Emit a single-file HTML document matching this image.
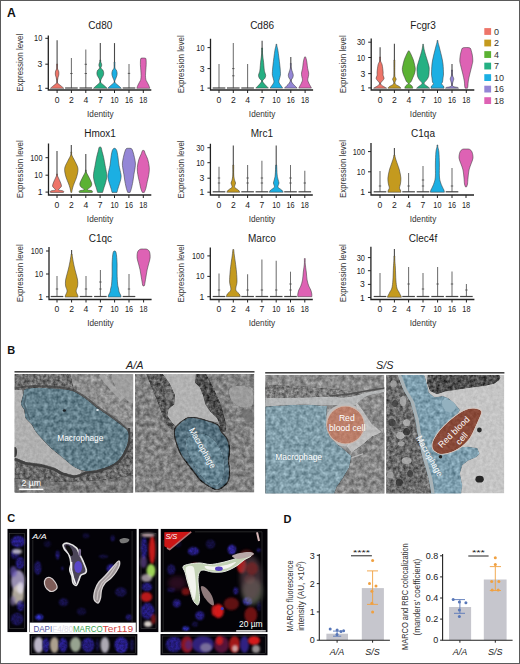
<!DOCTYPE html>
<html><head><meta charset="utf-8"><title>Figure</title>
<style>html,body{margin:0;padding:0;background:#fff;width:520px;height:664px;overflow:hidden}
svg text{font-family:"Liberation Sans",sans-serif}</style></head>
<body>
<svg width="520" height="664" viewBox="0 0 520 664" style="display:block">
<rect x="0" y="0" width="520" height="664" fill="#fff"/>
<text x="7" y="17" font-size="12.2" font-weight="bold" fill="#111" font-family="Liberation Sans, sans-serif">A</text>
<line x1="57.1" y1="86.3" x2="57.1" y2="40.3" stroke="#4a4a4a" stroke-width="1.1"/>
<path d="M50.40,88.30 C50.90,87.87 52.36,86.58 53.40,85.70 C54.44,84.82 56.11,83.95 56.65,83.00 C57.19,82.05 56.74,80.95 56.65,80.00 C56.56,79.05 56.31,78.13 56.10,77.30 C55.89,76.47 55.53,75.72 55.40,75.00 C55.27,74.28 55.27,73.67 55.30,73.00 C55.33,72.33 55.38,71.72 55.60,71.00 C55.83,70.28 56.48,69.87 56.65,68.70 C56.82,67.53 56.65,64.78 56.65,64.00 L57.55,64.00 C57.55,64.78 57.38,67.53 57.55,68.70 C57.73,69.87 58.38,70.28 58.60,71.00 C58.83,71.72 58.87,72.33 58.90,73.00 C58.93,73.67 58.93,74.28 58.80,75.00 C58.67,75.72 58.31,76.47 58.10,77.30 C57.89,78.13 57.64,79.05 57.55,80.00 C57.46,80.95 57.01,82.05 57.55,83.00 C58.09,83.95 59.76,84.82 60.80,85.70 C61.84,86.58 63.30,87.87 63.80,88.30 Z" fill="#EE7569" stroke="#3a3a3a" stroke-width="0.55"/>
<line x1="71.4" y1="88.3" x2="71.4" y2="58" stroke="#707070" stroke-width="1.05"/><line x1="65.10000000000001" y1="88.0" x2="77.7" y2="88.0" stroke="#444" stroke-width="1.2"/><line x1="70.2" y1="73.5" x2="72.60000000000001" y2="73.5" stroke="#444" stroke-width="0.8"/>
<line x1="85.8" y1="88.3" x2="85.8" y2="49.4" stroke="#707070" stroke-width="1.05"/><line x1="79.5" y1="88.0" x2="92.1" y2="88.0" stroke="#444" stroke-width="1.2"/><line x1="84.6" y1="64.3" x2="87.0" y2="64.3" stroke="#444" stroke-width="0.8"/><line x1="84.6" y1="73.5" x2="87.0" y2="73.5" stroke="#444" stroke-width="0.8"/>
<line x1="100.3" y1="86.3" x2="100.3" y2="43.1" stroke="#4a4a4a" stroke-width="1.1"/>
<path d="M93.50,88.30 C94.00,87.83 95.44,86.47 96.50,85.50 C97.56,84.53 99.29,83.33 99.85,82.50 C100.41,81.67 100.02,81.25 99.85,80.50 C99.67,79.75 99.22,78.83 98.80,78.00 C98.38,77.17 97.62,76.38 97.30,75.50 C96.98,74.62 96.82,73.62 96.90,72.70 C96.98,71.78 97.31,70.78 97.80,70.00 C98.29,69.22 99.65,68.67 99.85,68.00 C100.05,67.33 99.14,66.67 99.00,66.00 C98.86,65.33 98.86,64.67 99.00,64.00 C99.14,63.33 99.71,62.67 99.85,62.00 C99.99,61.33 99.85,60.33 99.85,60.00 L100.75,60.00 C100.75,60.33 100.61,61.33 100.75,62.00 C100.89,62.67 101.46,63.33 101.60,64.00 C101.74,64.67 101.74,65.33 101.60,66.00 C101.46,66.67 100.55,67.33 100.75,68.00 C100.95,68.67 102.31,69.22 102.80,70.00 C103.29,70.78 103.62,71.78 103.70,72.70 C103.78,73.62 103.62,74.62 103.30,75.50 C102.98,76.38 102.22,77.17 101.80,78.00 C101.38,78.83 100.92,79.75 100.75,80.50 C100.58,81.25 100.19,81.67 100.75,82.50 C101.31,83.33 103.04,84.53 104.10,85.50 C105.16,86.47 106.60,87.83 107.10,88.30 Z" fill="#25B083" stroke="#3a3a3a" stroke-width="0.55"/>
<line x1="114.5" y1="86.3" x2="114.5" y2="43.1" stroke="#4a4a4a" stroke-width="1.1"/>
<path d="M107.70,88.30 C108.20,87.83 109.64,86.47 110.70,85.50 C111.76,84.53 113.49,83.33 114.05,82.50 C114.61,81.67 114.22,81.25 114.05,80.50 C113.88,79.75 113.33,78.83 113.00,78.00 C112.67,77.17 112.28,76.38 112.10,75.50 C111.92,74.62 111.80,73.62 111.90,72.70 C112.00,71.78 112.34,70.78 112.70,70.00 C113.06,69.22 113.83,69.33 114.05,68.00 C114.27,66.67 114.05,63.00 114.05,62.00 L114.95,62.00 C114.95,63.00 114.73,66.67 114.95,68.00 C115.17,69.33 115.94,69.22 116.30,70.00 C116.66,70.78 117.00,71.78 117.10,72.70 C117.20,73.62 117.08,74.62 116.90,75.50 C116.72,76.38 116.33,77.17 116.00,78.00 C115.67,78.83 115.12,79.75 114.95,80.50 C114.78,81.25 114.39,81.67 114.95,82.50 C115.51,83.33 117.24,84.53 118.30,85.50 C119.36,86.47 120.80,87.83 121.30,88.30 Z" fill="#1BAFE3" stroke="#3a3a3a" stroke-width="0.55"/>
<line x1="129" y1="88.3" x2="129" y2="63.9" stroke="#707070" stroke-width="1.05"/><line x1="122.7" y1="88.0" x2="135.3" y2="88.0" stroke="#444" stroke-width="1.2"/><line x1="127.8" y1="73.4" x2="130.2" y2="73.4" stroke="#444" stroke-width="0.8"/>
<path d="M136.80,88.30 C136.85,88.13 136.90,87.85 137.10,87.30 C137.30,86.75 137.63,85.80 138.00,85.00 C138.37,84.20 138.92,83.22 139.30,82.50 C139.68,81.78 140.05,81.25 140.30,80.70 C140.55,80.15 140.67,80.05 140.80,79.20 C140.93,78.35 141.10,77.13 141.10,75.60 C141.10,74.07 140.92,71.83 140.80,70.00 C140.68,68.17 140.45,66.27 140.40,64.60 C140.35,62.93 140.40,61.05 140.50,60.00 C140.60,58.95 140.53,58.63 141.00,58.30 C141.47,57.97 142.92,58.05 143.30,58.00 L143.30,58.00 C143.68,58.05 145.13,57.97 145.60,58.30 C146.07,58.63 146.00,58.95 146.10,60.00 C146.20,61.05 146.25,62.93 146.20,64.60 C146.15,66.27 145.92,68.17 145.80,70.00 C145.68,71.83 145.50,74.07 145.50,75.60 C145.50,77.13 145.67,78.35 145.80,79.20 C145.93,80.05 146.05,80.15 146.30,80.70 C146.55,81.25 146.92,81.78 147.30,82.50 C147.68,83.22 148.23,84.20 148.60,85.00 C148.97,85.80 149.30,86.75 149.50,87.30 C149.70,87.85 149.75,88.13 149.80,88.30 Z" fill="#DE62B4" stroke="#3a3a3a" stroke-width="0.55"/>
<path d="M48.3,35.4 L48.3,90 L151.3,90" fill="none" stroke="#222" stroke-width="1.3"/>
<line x1="45.3" y1="38.3" x2="48.3" y2="38.3" stroke="#222" stroke-width="1"/>
<text x="42.3" y="41.3" text-anchor="end" font-size="8.6" fill="#222" font-family="Liberation Sans, sans-serif" textLength="8.2" lengthAdjust="spacingAndGlyphs">10</text>
<line x1="45.3" y1="64.2" x2="48.3" y2="64.2" stroke="#222" stroke-width="1"/>
<text x="42.3" y="67.2" text-anchor="end" font-size="8.6" fill="#222" font-family="Liberation Sans, sans-serif">3</text>
<line x1="45.3" y1="88.3" x2="48.3" y2="88.3" stroke="#222" stroke-width="1"/>
<text x="42.3" y="91.3" text-anchor="end" font-size="8.6" fill="#222" font-family="Liberation Sans, sans-serif">1</text>
<line x1="57.1" y1="90" x2="57.1" y2="93" stroke="#222" stroke-width="1"/>
<text x="57.1" y="103" text-anchor="middle" font-size="8.6" fill="#222" font-family="Liberation Sans, sans-serif">0</text>
<line x1="71.4" y1="90" x2="71.4" y2="93" stroke="#222" stroke-width="1"/>
<text x="71.4" y="103" text-anchor="middle" font-size="8.6" fill="#222" font-family="Liberation Sans, sans-serif">2</text>
<line x1="85.8" y1="90" x2="85.8" y2="93" stroke="#222" stroke-width="1"/>
<text x="85.8" y="103" text-anchor="middle" font-size="8.6" fill="#222" font-family="Liberation Sans, sans-serif">4</text>
<line x1="100.3" y1="90" x2="100.3" y2="93" stroke="#222" stroke-width="1"/>
<text x="100.3" y="103" text-anchor="middle" font-size="8.6" fill="#222" font-family="Liberation Sans, sans-serif">7</text>
<line x1="114.5" y1="90" x2="114.5" y2="93" stroke="#222" stroke-width="1"/>
<text x="114.5" y="103" text-anchor="middle" font-size="8.6" fill="#222" font-family="Liberation Sans, sans-serif" textLength="8.1" lengthAdjust="spacingAndGlyphs">10</text>
<line x1="129" y1="90" x2="129" y2="93" stroke="#222" stroke-width="1"/>
<text x="129" y="103" text-anchor="middle" font-size="8.6" fill="#222" font-family="Liberation Sans, sans-serif" textLength="8.1" lengthAdjust="spacingAndGlyphs">16</text>
<line x1="143.3" y1="90" x2="143.3" y2="93" stroke="#222" stroke-width="1"/>
<text x="143.3" y="103" text-anchor="middle" font-size="8.6" fill="#222" font-family="Liberation Sans, sans-serif" textLength="8.1" lengthAdjust="spacingAndGlyphs">18</text>
<text x="100.3" y="117" text-anchor="middle" font-size="9.2" fill="#333" font-family="Liberation Sans, sans-serif" textLength="26.5" lengthAdjust="spacingAndGlyphs">Identity</text>
<text x="100.3" y="29.3" text-anchor="middle" font-size="10" fill="#1a1a1a" font-family="Liberation Sans, sans-serif">Cd80</text>
<text transform="translate(22.7,62.7) rotate(-90)" text-anchor="middle" font-size="9.6" fill="#333" font-family="Liberation Sans, sans-serif" textLength="58" lengthAdjust="spacingAndGlyphs">Expression level</text>
<line x1="219" y1="88.3" x2="219" y2="64.1" stroke="#707070" stroke-width="1.05"/><line x1="212.7" y1="88.0" x2="225.3" y2="88.0" stroke="#444" stroke-width="1.2"/>
<line x1="233.3" y1="88.3" x2="233.3" y2="43" stroke="#707070" stroke-width="1.05"/><line x1="227.0" y1="88.0" x2="239.60000000000002" y2="88.0" stroke="#444" stroke-width="1.2"/><line x1="232.10000000000002" y1="75.8" x2="234.5" y2="75.8" stroke="#444" stroke-width="0.8"/><line x1="232.10000000000002" y1="68.6" x2="234.5" y2="68.6" stroke="#444" stroke-width="0.8"/>
<line x1="247.6" y1="88.3" x2="247.6" y2="64.1" stroke="#707070" stroke-width="1.05"/><line x1="241.29999999999998" y1="88.0" x2="253.9" y2="88.0" stroke="#444" stroke-width="1.2"/>
<line x1="262.1" y1="86.1" x2="262.1" y2="40.8" stroke="#4a4a4a" stroke-width="1.1"/>
<path d="M255.80,88.10 C256.22,87.67 257.52,86.33 258.30,85.50 C259.08,84.67 259.94,83.90 260.50,83.10 C261.06,82.30 261.82,81.47 261.65,80.70 C261.48,79.93 260.02,79.40 259.50,78.50 C258.98,77.60 258.48,76.42 258.50,75.30 C258.52,74.18 259.33,72.98 259.60,71.80 C259.87,70.62 259.93,69.80 260.10,68.20 C260.27,66.60 260.34,64.58 260.60,62.20 C260.86,59.82 261.48,56.27 261.65,53.90 C261.83,51.53 261.65,48.98 261.65,48.00 L262.55,48.00 C262.55,48.98 262.38,51.53 262.55,53.90 C262.73,56.27 263.34,59.82 263.60,62.20 C263.86,64.58 263.93,66.60 264.10,68.20 C264.27,69.80 264.33,70.62 264.60,71.80 C264.87,72.98 265.68,74.18 265.70,75.30 C265.72,76.42 265.23,77.60 264.70,78.50 C264.18,79.40 262.72,79.93 262.55,80.70 C262.38,81.47 263.14,82.30 263.70,83.10 C264.26,83.90 265.12,84.67 265.90,85.50 C266.68,86.33 267.98,87.67 268.40,88.10 Z" fill="#25B083" stroke="#3a3a3a" stroke-width="0.55"/>
<path d="M270.10,88.10 C270.40,87.67 271.32,86.35 271.90,85.50 C272.48,84.65 273.27,83.70 273.60,83.00 C273.93,82.30 273.93,81.98 273.90,81.30 C273.87,80.62 273.65,79.90 273.40,78.90 C273.15,77.90 272.57,76.48 272.40,75.30 C272.23,74.12 272.32,73.38 272.40,71.80 C272.48,70.22 272.65,68.18 272.90,65.80 C273.15,63.42 273.57,60.08 273.90,57.50 C274.23,54.92 274.56,52.30 274.90,50.30 C275.24,48.30 275.77,46.50 275.95,45.50 C276.12,44.50 275.95,44.50 275.95,44.30 L276.85,44.30 C276.85,44.50 276.67,44.50 276.85,45.50 C277.02,46.50 277.56,48.30 277.90,50.30 C278.24,52.30 278.57,54.92 278.90,57.50 C279.23,60.08 279.65,63.42 279.90,65.80 C280.15,68.18 280.32,70.22 280.40,71.80 C280.48,73.38 280.57,74.12 280.40,75.30 C280.23,76.48 279.65,77.90 279.40,78.90 C279.15,79.90 278.93,80.62 278.90,81.30 C278.87,81.98 278.87,82.30 279.20,83.00 C279.53,83.70 280.32,84.65 280.90,85.50 C281.48,86.35 282.40,87.67 282.70,88.10 Z" fill="#1BAFE3" stroke="#3a3a3a" stroke-width="0.55"/>
<line x1="290.8" y1="86.1" x2="290.8" y2="56.9" stroke="#4a4a4a" stroke-width="1.1"/>
<path d="M284.50,88.10 C284.92,87.67 286.20,86.33 287.00,85.50 C287.80,84.67 288.74,84.00 289.30,83.10 C289.86,82.20 290.40,80.95 290.35,80.10 C290.30,79.25 289.34,78.80 289.00,78.00 C288.66,77.20 288.30,76.22 288.30,75.30 C288.30,74.38 288.66,73.72 289.00,72.50 C289.34,71.28 290.12,69.52 290.35,68.00 C290.58,66.48 290.35,64.17 290.35,63.40 L291.25,63.40 C291.25,64.17 291.02,66.48 291.25,68.00 C291.48,69.52 292.26,71.28 292.60,72.50 C292.94,73.72 293.30,74.38 293.30,75.30 C293.30,76.22 292.94,77.20 292.60,78.00 C292.26,78.80 291.30,79.25 291.25,80.10 C291.20,80.95 291.74,82.20 292.30,83.10 C292.86,84.00 293.80,84.67 294.60,85.50 C295.40,86.33 296.68,87.67 297.10,88.10 Z" fill="#9486D6" stroke="#3a3a3a" stroke-width="0.55"/>
<path d="M298.80,88.10 C299.02,87.67 299.72,86.23 300.10,85.50 C300.48,84.77 300.70,84.60 301.10,83.70 C301.50,82.80 302.38,81.30 302.50,80.10 C302.62,78.90 301.97,77.68 301.80,76.50 C301.63,75.32 301.37,74.38 301.50,73.00 C301.63,71.62 302.30,70.00 302.60,68.20 C302.90,66.40 303.05,63.82 303.30,62.20 C303.55,60.58 303.88,59.38 304.10,58.50 C304.33,57.62 304.56,57.17 304.65,56.90 L305.55,56.90 C305.64,57.17 305.88,57.62 306.10,58.50 C306.33,59.38 306.65,60.58 306.90,62.20 C307.15,63.82 307.30,66.40 307.60,68.20 C307.90,70.00 308.57,71.62 308.70,73.00 C308.83,74.38 308.57,75.32 308.40,76.50 C308.23,77.68 307.58,78.90 307.70,80.10 C307.82,81.30 308.70,82.80 309.10,83.70 C309.50,84.60 309.72,84.77 310.10,85.50 C310.48,86.23 311.18,87.67 311.40,88.10 Z" fill="#DE62B4" stroke="#3a3a3a" stroke-width="0.55"/>
<path d="M210.5,38.7 L210.5,90 L313.1,90" fill="none" stroke="#222" stroke-width="1.3"/>
<line x1="207.5" y1="47.6" x2="210.5" y2="47.6" stroke="#222" stroke-width="1"/>
<text x="204.5" y="50.6" text-anchor="end" font-size="8.6" fill="#222" font-family="Liberation Sans, sans-serif" textLength="8.2" lengthAdjust="spacingAndGlyphs">10</text>
<line x1="207.5" y1="68.6" x2="210.5" y2="68.6" stroke="#222" stroke-width="1"/>
<text x="204.5" y="71.6" text-anchor="end" font-size="8.6" fill="#222" font-family="Liberation Sans, sans-serif">3</text>
<line x1="207.5" y1="88.1" x2="210.5" y2="88.1" stroke="#222" stroke-width="1"/>
<text x="204.5" y="91.1" text-anchor="end" font-size="8.6" fill="#222" font-family="Liberation Sans, sans-serif">1</text>
<line x1="219" y1="90" x2="219" y2="93" stroke="#222" stroke-width="1"/>
<text x="219" y="103" text-anchor="middle" font-size="8.6" fill="#222" font-family="Liberation Sans, sans-serif">0</text>
<line x1="233.3" y1="90" x2="233.3" y2="93" stroke="#222" stroke-width="1"/>
<text x="233.3" y="103" text-anchor="middle" font-size="8.6" fill="#222" font-family="Liberation Sans, sans-serif">2</text>
<line x1="247.6" y1="90" x2="247.6" y2="93" stroke="#222" stroke-width="1"/>
<text x="247.6" y="103" text-anchor="middle" font-size="8.6" fill="#222" font-family="Liberation Sans, sans-serif">4</text>
<line x1="262.1" y1="90" x2="262.1" y2="93" stroke="#222" stroke-width="1"/>
<text x="262.1" y="103" text-anchor="middle" font-size="8.6" fill="#222" font-family="Liberation Sans, sans-serif">7</text>
<line x1="276.4" y1="90" x2="276.4" y2="93" stroke="#222" stroke-width="1"/>
<text x="276.4" y="103" text-anchor="middle" font-size="8.6" fill="#222" font-family="Liberation Sans, sans-serif" textLength="8.1" lengthAdjust="spacingAndGlyphs">10</text>
<line x1="290.8" y1="90" x2="290.8" y2="93" stroke="#222" stroke-width="1"/>
<text x="290.8" y="103" text-anchor="middle" font-size="8.6" fill="#222" font-family="Liberation Sans, sans-serif" textLength="8.1" lengthAdjust="spacingAndGlyphs">16</text>
<line x1="305.1" y1="90" x2="305.1" y2="93" stroke="#222" stroke-width="1"/>
<text x="305.1" y="103" text-anchor="middle" font-size="8.6" fill="#222" font-family="Liberation Sans, sans-serif" textLength="8.1" lengthAdjust="spacingAndGlyphs">18</text>
<text x="262.1" y="117" text-anchor="middle" font-size="9.2" fill="#333" font-family="Liberation Sans, sans-serif" textLength="26.5" lengthAdjust="spacingAndGlyphs">Identity</text>
<text x="262.1" y="29.3" text-anchor="middle" font-size="10" fill="#1a1a1a" font-family="Liberation Sans, sans-serif">Cd86</text>
<text transform="translate(183.7,64.35) rotate(-90)" text-anchor="middle" font-size="9.6" fill="#333" font-family="Liberation Sans, sans-serif" textLength="58" lengthAdjust="spacingAndGlyphs">Expression level</text>
<line x1="380.1" y1="86.2" x2="380.1" y2="47.3" stroke="#4a4a4a" stroke-width="1.1"/>
<path d="M373.60,88.20 C374.08,87.92 375.62,87.05 376.50,86.50 C377.38,85.95 378.38,85.47 378.90,84.90 C379.43,84.33 379.87,83.80 379.65,83.10 C379.43,82.40 378.19,81.50 377.60,80.70 C377.01,79.90 376.18,79.20 376.10,78.30 C376.02,77.40 376.93,76.38 377.10,75.30 C377.27,74.22 376.93,73.58 377.10,71.80 C377.27,70.02 377.68,66.40 378.10,64.60 C378.53,62.80 379.39,62.27 379.65,61.00 C379.91,59.73 379.65,57.67 379.65,57.00 L380.55,57.00 C380.55,57.67 380.29,59.73 380.55,61.00 C380.81,62.27 381.68,62.80 382.10,64.60 C382.53,66.40 382.93,70.02 383.10,71.80 C383.27,73.58 382.93,74.22 383.10,75.30 C383.27,76.38 384.18,77.40 384.10,78.30 C384.02,79.20 383.19,79.90 382.60,80.70 C382.01,81.50 380.77,82.40 380.55,83.10 C380.33,83.80 380.77,84.33 381.30,84.90 C381.83,85.47 382.82,85.95 383.70,86.50 C384.58,87.05 386.12,87.92 386.60,88.20 Z" fill="#EE7569" stroke="#3a3a3a" stroke-width="0.55"/>
<line x1="394.4" y1="86.2" x2="394.4" y2="43.7" stroke="#4a4a4a" stroke-width="1.1"/>
<path d="M387.90,88.20 C388.15,87.92 388.65,87.05 389.40,86.50 C390.15,85.95 391.64,85.47 392.40,84.90 C393.16,84.33 393.82,83.80 393.95,83.10 C394.08,82.40 393.43,81.35 393.20,80.70 C392.97,80.05 392.60,79.70 392.60,79.20 C392.60,78.70 392.97,78.40 393.20,77.70 C393.43,77.00 393.82,77.95 393.95,75.00 C394.07,72.05 393.95,62.50 393.95,60.00 L394.85,60.00 C394.85,62.50 394.72,72.05 394.85,75.00 C394.97,77.95 395.37,77.00 395.60,77.70 C395.82,78.40 396.20,78.70 396.20,79.20 C396.20,79.70 395.82,80.05 395.60,80.70 C395.37,81.35 394.72,82.40 394.85,83.10 C394.98,83.80 395.64,84.33 396.40,84.90 C397.16,85.47 398.65,85.95 399.40,86.50 C400.15,87.05 400.65,87.92 400.90,88.20 Z" fill="#C49A1E" stroke="#3a3a3a" stroke-width="0.55"/>
<path d="M404.80,88.20 C404.88,87.92 405.00,87.03 405.30,86.50 C405.60,85.97 406.09,85.47 406.60,85.00 C407.11,84.53 408.40,84.32 408.35,83.70 C408.30,83.08 406.89,82.30 406.30,81.30 C405.71,80.30 405.30,78.88 404.80,77.70 C404.30,76.52 403.72,75.58 403.30,74.20 C402.88,72.82 402.38,70.80 402.30,69.40 C402.22,68.00 402.47,67.40 402.80,65.80 C403.13,64.20 403.63,61.78 404.30,59.80 C404.97,57.82 406.12,55.38 406.80,53.90 C407.48,52.42 408.09,51.40 408.35,50.90 L409.25,50.90 C409.51,51.40 410.12,52.42 410.80,53.90 C411.48,55.38 412.63,57.82 413.30,59.80 C413.97,61.78 414.47,64.20 414.80,65.80 C415.13,67.40 415.38,68.00 415.30,69.40 C415.22,70.80 414.72,72.82 414.30,74.20 C413.88,75.58 413.30,76.52 412.80,77.70 C412.30,78.88 411.89,80.30 411.30,81.30 C410.71,82.30 409.30,83.08 409.25,83.70 C409.20,84.32 410.49,84.53 411.00,85.00 C411.51,85.47 412.00,85.97 412.30,86.50 C412.60,87.03 412.72,87.92 412.80,88.20 Z" fill="#5BB233" stroke="#3a3a3a" stroke-width="0.55"/>
<path d="M416.60,88.20 C416.93,87.92 417.88,87.05 418.60,86.50 C419.32,85.95 420.32,85.47 420.90,84.90 C421.48,84.33 422.32,83.90 422.10,83.10 C421.88,82.30 420.35,81.20 419.60,80.10 C418.85,79.00 418.02,77.88 417.60,76.50 C417.18,75.12 417.18,73.38 417.10,71.80 C417.02,70.22 416.77,69.00 417.10,67.00 C417.43,65.00 418.35,62.38 419.10,59.80 C419.85,57.22 421.01,53.80 421.60,51.50 C422.19,49.20 422.48,47.20 422.65,46.00 C422.83,44.80 422.65,44.58 422.65,44.30 L423.55,44.30 C423.55,44.58 423.38,44.80 423.55,46.00 C423.73,47.20 424.01,49.20 424.60,51.50 C425.19,53.80 426.35,57.22 427.10,59.80 C427.85,62.38 428.77,65.00 429.10,67.00 C429.43,69.00 429.18,70.22 429.10,71.80 C429.02,73.38 429.02,75.12 428.60,76.50 C428.18,77.88 427.35,79.00 426.60,80.10 C425.85,81.20 424.32,82.30 424.10,83.10 C423.88,83.90 424.72,84.33 425.30,84.90 C425.88,85.47 426.88,85.95 427.60,86.50 C428.32,87.05 429.27,87.92 429.60,88.20 Z" fill="#25B083" stroke="#3a3a3a" stroke-width="0.55"/>
<path d="M431.00,88.20 C431.08,87.83 431.08,86.70 431.50,86.00 C431.92,85.30 433.33,84.67 433.50,84.00 C433.67,83.33 432.75,83.00 432.50,82.00 C432.25,81.00 432.17,79.33 432.00,78.00 C431.83,76.67 431.50,76.33 431.50,74.00 C431.50,71.67 431.67,67.00 432.00,64.00 C432.33,61.00 432.83,59.00 433.50,56.00 C434.17,53.00 435.41,48.33 436.00,46.00 C436.59,43.67 436.88,42.92 437.05,42.00 C437.23,41.08 437.05,40.75 437.05,40.50 L437.95,40.50 C437.95,40.75 437.77,41.08 437.95,42.00 C438.12,42.92 438.41,43.67 439.00,46.00 C439.59,48.33 440.83,53.00 441.50,56.00 C442.17,59.00 442.67,61.00 443.00,64.00 C443.33,67.00 443.50,71.67 443.50,74.00 C443.50,76.33 443.17,76.67 443.00,78.00 C442.83,79.33 442.75,81.00 442.50,82.00 C442.25,83.00 441.33,83.33 441.50,84.00 C441.67,84.67 443.08,85.30 443.50,86.00 C443.92,86.70 443.92,87.83 444.00,88.20 Z" fill="#1BAFE3" stroke="#3a3a3a" stroke-width="0.55"/>
<line x1="452" y1="86.2" x2="452" y2="64" stroke="#4a4a4a" stroke-width="1.1"/>
<path d="M445.50,88.20 C445.67,88.07 445.62,87.68 446.50,87.40 C447.38,87.12 449.96,87.07 450.80,86.50 C451.64,85.93 451.58,85.00 451.55,84.00 C451.52,83.00 450.83,81.33 450.60,80.50 C450.38,79.67 450.20,79.50 450.20,79.00 C450.20,78.50 450.38,78.17 450.60,77.50 C450.83,76.83 451.39,76.25 451.55,75.00 C451.71,73.75 451.55,70.83 451.55,70.00 L452.45,70.00 C452.45,70.83 452.29,73.75 452.45,75.00 C452.61,76.25 453.17,76.83 453.40,77.50 C453.62,78.17 453.80,78.50 453.80,79.00 C453.80,79.50 453.62,79.67 453.40,80.50 C453.17,81.33 452.48,83.00 452.45,84.00 C452.42,85.00 452.36,85.93 453.20,86.50 C454.04,87.07 456.62,87.12 457.50,87.40 C458.38,87.68 458.33,88.07 458.50,88.20 Z" fill="#9486D6" stroke="#3a3a3a" stroke-width="0.55"/>
<path d="M465.10,88.20 C465.03,87.83 464.83,87.20 464.70,86.00 C464.57,84.80 464.62,83.00 464.30,81.00 C463.98,79.00 463.38,76.50 462.80,74.00 C462.22,71.50 461.30,68.17 460.80,66.00 C460.30,63.83 459.88,62.83 459.80,61.00 C459.72,59.17 460.05,56.67 460.30,55.00 C460.55,53.33 460.93,52.17 461.30,51.00 C461.67,49.83 461.67,48.58 462.50,48.00 C463.33,47.42 465.67,47.58 466.30,47.50 L466.30,47.50 C466.93,47.58 469.27,47.42 470.10,48.00 C470.93,48.58 470.93,49.83 471.30,51.00 C471.67,52.17 472.05,53.33 472.30,55.00 C472.55,56.67 472.88,59.17 472.80,61.00 C472.72,62.83 472.30,63.83 471.80,66.00 C471.30,68.17 470.38,71.50 469.80,74.00 C469.22,76.50 468.62,79.00 468.30,81.00 C467.98,83.00 468.03,84.80 467.90,86.00 C467.77,87.20 467.57,87.83 467.50,88.20 Z" fill="#DE62B4" stroke="#3a3a3a" stroke-width="0.55"/>
<path d="M371.2,38.4 L371.2,90 L474.3,90" fill="none" stroke="#222" stroke-width="1.3"/>
<line x1="368.2" y1="42.2" x2="371.2" y2="42.2" stroke="#222" stroke-width="1"/>
<text x="365.2" y="45.2" text-anchor="end" font-size="8.6" fill="#222" font-family="Liberation Sans, sans-serif" textLength="8.2" lengthAdjust="spacingAndGlyphs">30</text>
<line x1="368.2" y1="57.5" x2="371.2" y2="57.5" stroke="#222" stroke-width="1"/>
<text x="365.2" y="60.5" text-anchor="end" font-size="8.6" fill="#222" font-family="Liberation Sans, sans-serif" textLength="8.2" lengthAdjust="spacingAndGlyphs">10</text>
<line x1="368.2" y1="73.6" x2="371.2" y2="73.6" stroke="#222" stroke-width="1"/>
<text x="365.2" y="76.6" text-anchor="end" font-size="8.6" fill="#222" font-family="Liberation Sans, sans-serif">3</text>
<line x1="368.2" y1="87.9" x2="371.2" y2="87.9" stroke="#222" stroke-width="1"/>
<text x="365.2" y="90.9" text-anchor="end" font-size="8.6" fill="#222" font-family="Liberation Sans, sans-serif">1</text>
<line x1="380.1" y1="90" x2="380.1" y2="93" stroke="#222" stroke-width="1"/>
<text x="380.1" y="103" text-anchor="middle" font-size="8.6" fill="#222" font-family="Liberation Sans, sans-serif">0</text>
<line x1="394.4" y1="90" x2="394.4" y2="93" stroke="#222" stroke-width="1"/>
<text x="394.4" y="103" text-anchor="middle" font-size="8.6" fill="#222" font-family="Liberation Sans, sans-serif">2</text>
<line x1="408.8" y1="90" x2="408.8" y2="93" stroke="#222" stroke-width="1"/>
<text x="408.8" y="103" text-anchor="middle" font-size="8.6" fill="#222" font-family="Liberation Sans, sans-serif">4</text>
<line x1="423.1" y1="90" x2="423.1" y2="93" stroke="#222" stroke-width="1"/>
<text x="423.1" y="103" text-anchor="middle" font-size="8.6" fill="#222" font-family="Liberation Sans, sans-serif">7</text>
<line x1="437.5" y1="90" x2="437.5" y2="93" stroke="#222" stroke-width="1"/>
<text x="437.5" y="103" text-anchor="middle" font-size="8.6" fill="#222" font-family="Liberation Sans, sans-serif" textLength="8.1" lengthAdjust="spacingAndGlyphs">10</text>
<line x1="452" y1="90" x2="452" y2="93" stroke="#222" stroke-width="1"/>
<text x="452" y="103" text-anchor="middle" font-size="8.6" fill="#222" font-family="Liberation Sans, sans-serif" textLength="8.1" lengthAdjust="spacingAndGlyphs">16</text>
<line x1="466.3" y1="90" x2="466.3" y2="93" stroke="#222" stroke-width="1"/>
<text x="466.3" y="103" text-anchor="middle" font-size="8.6" fill="#222" font-family="Liberation Sans, sans-serif" textLength="8.1" lengthAdjust="spacingAndGlyphs">18</text>
<text x="423.1" y="117" text-anchor="middle" font-size="9.2" fill="#333" font-family="Liberation Sans, sans-serif" textLength="26.5" lengthAdjust="spacingAndGlyphs">Identity</text>
<text x="423.1" y="29.3" text-anchor="middle" font-size="10" fill="#1a1a1a" font-family="Liberation Sans, sans-serif">Fcgr3</text>
<text transform="translate(346.3,64.2) rotate(-90)" text-anchor="middle" font-size="9.6" fill="#333" font-family="Liberation Sans, sans-serif" textLength="58" lengthAdjust="spacingAndGlyphs">Expression level</text>
<line x1="57" y1="190.4" x2="57" y2="151" stroke="#4a4a4a" stroke-width="1.1"/>
<path d="M50.50,192.40 C50.53,192.17 50.03,191.37 50.70,191.00 C51.37,190.63 53.70,190.45 54.50,190.20 C55.30,189.95 55.58,189.87 55.50,189.50 C55.42,189.13 54.50,188.58 54.00,188.00 C53.50,187.42 52.55,187.00 52.50,186.00 C52.45,185.00 53.20,183.33 53.70,182.00 C54.20,180.67 55.02,179.08 55.50,178.00 C55.98,176.92 56.38,176.17 56.55,175.50 C56.72,174.83 56.55,174.25 56.55,174.00 L57.45,174.00 C57.45,174.25 57.28,174.83 57.45,175.50 C57.62,176.17 58.02,176.92 58.50,178.00 C58.98,179.08 59.80,180.67 60.30,182.00 C60.80,183.33 61.55,185.00 61.50,186.00 C61.45,187.00 60.50,187.42 60.00,188.00 C59.50,188.58 58.58,189.13 58.50,189.50 C58.42,189.87 58.70,189.95 59.50,190.20 C60.30,190.45 62.63,190.63 63.30,191.00 C63.97,191.37 63.47,192.17 63.50,192.40 Z" fill="#EE7569" stroke="#3a3a3a" stroke-width="0.55"/>
<line x1="71.3" y1="190.4" x2="71.3" y2="145" stroke="#4a4a4a" stroke-width="1.1"/>
<path d="M70.85,192.40 C70.71,191.67 70.42,189.57 70.00,188.00 C69.58,186.43 68.92,184.67 68.30,183.00 C67.68,181.33 66.88,179.83 66.30,178.00 C65.72,176.17 65.02,173.83 64.80,172.00 C64.58,170.17 64.42,169.00 65.00,167.00 C65.58,165.00 67.33,162.00 68.30,160.00 C69.27,158.00 70.42,156.33 70.85,155.00 C71.27,153.67 70.85,152.50 70.85,152.00 L71.75,152.00 C71.75,152.50 71.33,153.67 71.75,155.00 C72.17,156.33 73.33,158.00 74.30,160.00 C75.27,162.00 77.02,165.00 77.60,167.00 C78.18,169.00 78.02,170.17 77.80,172.00 C77.58,173.83 76.88,176.17 76.30,178.00 C75.72,179.83 74.92,181.33 74.30,183.00 C73.68,184.67 73.02,186.43 72.60,188.00 C72.17,189.57 71.89,191.67 71.75,192.40 Z" fill="#C49A1E" stroke="#3a3a3a" stroke-width="0.55"/>
<line x1="85.8" y1="190.4" x2="85.8" y2="154" stroke="#4a4a4a" stroke-width="1.1"/>
<path d="M79.30,192.40 C79.33,192.13 78.78,191.20 79.50,190.80 C80.22,190.40 82.88,190.30 83.60,190.00 C84.32,189.70 84.23,189.50 83.80,189.00 C83.37,188.50 81.67,187.83 81.00,187.00 C80.33,186.17 79.75,185.17 79.80,184.00 C79.85,182.83 80.72,181.33 81.30,180.00 C81.88,178.67 82.62,177.33 83.30,176.00 C83.97,174.67 85.01,173.00 85.35,172.00 C85.69,171.00 85.35,170.33 85.35,170.00 L86.25,170.00 C86.25,170.33 85.91,171.00 86.25,172.00 C86.59,173.00 87.62,174.67 88.30,176.00 C88.97,177.33 89.72,178.67 90.30,180.00 C90.88,181.33 91.75,182.83 91.80,184.00 C91.85,185.17 91.27,186.17 90.60,187.00 C89.93,187.83 88.23,188.50 87.80,189.00 C87.37,189.50 87.28,189.70 88.00,190.00 C88.72,190.30 91.38,190.40 92.10,190.80 C92.82,191.20 92.27,192.13 92.30,192.40 Z" fill="#5BB233" stroke="#3a3a3a" stroke-width="0.55"/>
<path d="M97.60,192.40 C97.52,192.13 97.35,191.65 97.10,190.80 C96.85,189.95 96.52,188.65 96.10,187.30 C95.68,185.95 95.02,184.25 94.60,182.70 C94.18,181.15 93.77,179.53 93.60,178.00 C93.43,176.47 93.35,175.60 93.60,173.50 C93.85,171.40 94.60,168.10 95.10,165.40 C95.60,162.70 96.10,159.62 96.60,157.30 C97.10,154.98 97.72,153.05 98.10,151.50 C98.48,149.95 98.64,148.77 98.90,148.00 C99.16,147.23 99.52,147.08 99.65,146.90 L100.55,146.90 C100.67,147.08 101.04,147.23 101.30,148.00 C101.56,148.77 101.72,149.95 102.10,151.50 C102.48,153.05 103.10,154.98 103.60,157.30 C104.10,159.62 104.60,162.70 105.10,165.40 C105.60,168.10 106.35,171.40 106.60,173.50 C106.85,175.60 106.77,176.47 106.60,178.00 C106.43,179.53 106.02,181.15 105.60,182.70 C105.18,184.25 104.52,185.95 104.10,187.30 C103.68,188.65 103.35,189.95 103.10,190.80 C102.85,191.65 102.68,192.13 102.60,192.40 Z" fill="#25B083" stroke="#3a3a3a" stroke-width="0.55"/>
<path d="M112.00,192.40 C111.83,191.75 111.42,189.93 111.00,188.50 C110.58,187.07 109.97,185.35 109.50,183.80 C109.03,182.25 108.45,180.73 108.20,179.20 C107.95,177.67 107.70,176.90 108.00,174.60 C108.30,172.30 109.50,168.28 110.00,165.40 C110.50,162.52 110.67,159.62 111.00,157.30 C111.33,154.98 111.65,152.88 112.00,151.50 C112.35,150.12 112.76,149.53 113.10,149.00 C113.44,148.47 113.89,148.42 114.05,148.30 L114.95,148.30 C115.11,148.42 115.56,148.47 115.90,149.00 C116.24,149.53 116.65,150.12 117.00,151.50 C117.35,152.88 117.67,154.98 118.00,157.30 C118.33,159.62 118.50,162.52 119.00,165.40 C119.50,168.28 120.70,172.30 121.00,174.60 C121.30,176.90 121.05,177.67 120.80,179.20 C120.55,180.73 119.97,182.25 119.50,183.80 C119.03,185.35 118.42,187.07 118.00,188.50 C117.58,189.93 117.17,191.75 117.00,192.40 Z" fill="#1BAFE3" stroke="#3a3a3a" stroke-width="0.55"/>
<path d="M127.70,192.40 C127.48,191.75 126.87,190.32 126.40,188.50 C125.93,186.68 125.32,183.82 124.90,181.50 C124.48,179.18 124.27,176.90 123.90,174.60 C123.53,172.30 122.95,169.63 122.70,167.70 C122.45,165.77 122.28,164.73 122.40,163.00 C122.52,161.27 122.98,159.22 123.40,157.30 C123.82,155.38 124.40,152.95 124.90,151.50 C125.40,150.05 125.73,149.13 126.40,148.60 C127.07,148.07 128.48,148.35 128.90,148.30 L128.90,148.30 C129.32,148.35 130.73,148.07 131.40,148.60 C132.07,149.13 132.40,150.05 132.90,151.50 C133.40,152.95 133.98,155.38 134.40,157.30 C134.82,159.22 135.28,161.27 135.40,163.00 C135.52,164.73 135.35,165.77 135.10,167.70 C134.85,169.63 134.27,172.30 133.90,174.60 C133.53,176.90 133.32,179.18 132.90,181.50 C132.48,183.82 131.87,186.68 131.40,188.50 C130.93,190.32 130.32,191.75 130.10,192.40 Z" fill="#9486D6" stroke="#3a3a3a" stroke-width="0.55"/>
<path d="M142.30,192.40 C142.05,191.75 141.30,190.32 140.80,188.50 C140.30,186.68 139.80,183.82 139.30,181.50 C138.80,179.18 138.13,176.90 137.80,174.60 C137.47,172.30 137.13,170.20 137.30,167.70 C137.47,165.20 138.13,161.92 138.80,159.60 C139.47,157.28 140.72,155.27 141.30,153.80 C141.88,152.33 142.04,151.37 142.30,150.80 C142.56,150.23 142.76,150.47 142.85,150.40 L143.75,150.40 C143.84,150.47 144.04,150.23 144.30,150.80 C144.56,151.37 144.72,152.33 145.30,153.80 C145.88,155.27 147.13,157.28 147.80,159.60 C148.47,161.92 149.13,165.20 149.30,167.70 C149.47,170.20 149.13,172.30 148.80,174.60 C148.47,176.90 147.80,179.18 147.30,181.50 C146.80,183.82 146.30,186.68 145.80,188.50 C145.30,190.32 144.55,191.75 144.30,192.40 Z" fill="#DE62B4" stroke="#3a3a3a" stroke-width="0.55"/>
<path d="M48.5,143.5 L48.5,195 L151.3,195" fill="none" stroke="#222" stroke-width="1.3"/>
<line x1="45.5" y1="157.7" x2="48.5" y2="157.7" stroke="#222" stroke-width="1"/>
<text x="42.5" y="160.7" text-anchor="end" font-size="8.6" fill="#222" font-family="Liberation Sans, sans-serif" textLength="12.3" lengthAdjust="spacingAndGlyphs">100</text>
<line x1="45.5" y1="175.2" x2="48.5" y2="175.2" stroke="#222" stroke-width="1"/>
<text x="42.5" y="178.2" text-anchor="end" font-size="8.6" fill="#222" font-family="Liberation Sans, sans-serif" textLength="8.2" lengthAdjust="spacingAndGlyphs">10</text>
<line x1="45.5" y1="192.1" x2="48.5" y2="192.1" stroke="#222" stroke-width="1"/>
<text x="42.5" y="195.1" text-anchor="end" font-size="8.6" fill="#222" font-family="Liberation Sans, sans-serif">1</text>
<line x1="57" y1="195" x2="57" y2="198" stroke="#222" stroke-width="1"/>
<text x="57" y="207.7" text-anchor="middle" font-size="8.6" fill="#222" font-family="Liberation Sans, sans-serif">0</text>
<line x1="71.3" y1="195" x2="71.3" y2="198" stroke="#222" stroke-width="1"/>
<text x="71.3" y="207.7" text-anchor="middle" font-size="8.6" fill="#222" font-family="Liberation Sans, sans-serif">2</text>
<line x1="85.8" y1="195" x2="85.8" y2="198" stroke="#222" stroke-width="1"/>
<text x="85.8" y="207.7" text-anchor="middle" font-size="8.6" fill="#222" font-family="Liberation Sans, sans-serif">4</text>
<line x1="100.1" y1="195" x2="100.1" y2="198" stroke="#222" stroke-width="1"/>
<text x="100.1" y="207.7" text-anchor="middle" font-size="8.6" fill="#222" font-family="Liberation Sans, sans-serif">7</text>
<line x1="114.5" y1="195" x2="114.5" y2="198" stroke="#222" stroke-width="1"/>
<text x="114.5" y="207.7" text-anchor="middle" font-size="8.6" fill="#222" font-family="Liberation Sans, sans-serif" textLength="8.1" lengthAdjust="spacingAndGlyphs">10</text>
<line x1="128.9" y1="195" x2="128.9" y2="198" stroke="#222" stroke-width="1"/>
<text x="128.9" y="207.7" text-anchor="middle" font-size="8.6" fill="#222" font-family="Liberation Sans, sans-serif" textLength="8.1" lengthAdjust="spacingAndGlyphs">16</text>
<line x1="143.3" y1="195" x2="143.3" y2="198" stroke="#222" stroke-width="1"/>
<text x="143.3" y="207.7" text-anchor="middle" font-size="8.6" fill="#222" font-family="Liberation Sans, sans-serif" textLength="8.1" lengthAdjust="spacingAndGlyphs">18</text>
<text x="100.1" y="222" text-anchor="middle" font-size="9.2" fill="#333" font-family="Liberation Sans, sans-serif" textLength="26.5" lengthAdjust="spacingAndGlyphs">Identity</text>
<text x="100.1" y="136.9" text-anchor="middle" font-size="10" fill="#1a1a1a" font-family="Liberation Sans, sans-serif">Hmox1</text>
<text transform="translate(22.7,169.25) rotate(-90)" text-anchor="middle" font-size="9.6" fill="#333" font-family="Liberation Sans, sans-serif" textLength="58" lengthAdjust="spacingAndGlyphs">Expression level</text>
<line x1="219.0" y1="192.1" x2="219.0" y2="166.8" stroke="#707070" stroke-width="1.05"/><line x1="212.7" y1="191.79999999999998" x2="225.3" y2="191.79999999999998" stroke="#444" stroke-width="1.2"/><line x1="217.8" y1="178" x2="220.2" y2="178" stroke="#444" stroke-width="0.8"/><line x1="217.8" y1="183" x2="220.2" y2="183" stroke="#444" stroke-width="0.8"/>
<line x1="233.3" y1="190.2" x2="233.3" y2="145.4" stroke="#4a4a4a" stroke-width="1.1"/>
<path d="M226.80,192.20 C227.05,191.83 227.47,190.78 228.30,190.00 C229.13,189.22 231.22,188.25 231.80,187.50 C232.38,186.75 231.93,186.25 231.80,185.50 C231.67,184.75 230.98,183.83 231.00,183.00 C231.02,182.17 231.59,181.83 231.90,180.50 C232.21,179.17 232.69,177.58 232.85,175.00 C233.01,172.42 232.85,166.67 232.85,165.00 L233.75,165.00 C233.75,166.67 233.59,172.42 233.75,175.00 C233.91,177.58 234.39,179.17 234.70,180.50 C235.01,181.83 235.58,182.17 235.60,183.00 C235.62,183.83 234.93,184.75 234.80,185.50 C234.67,186.25 234.22,186.75 234.80,187.50 C235.38,188.25 237.47,189.22 238.30,190.00 C239.13,190.78 239.55,191.83 239.80,192.20 Z" fill="#C49A1E" stroke="#3a3a3a" stroke-width="0.55"/>
<line x1="247.6" y1="192.1" x2="247.6" y2="165" stroke="#707070" stroke-width="1.05"/><line x1="241.29999999999998" y1="191.79999999999998" x2="253.9" y2="191.79999999999998" stroke="#444" stroke-width="1.2"/><line x1="246.4" y1="178" x2="248.79999999999998" y2="178" stroke="#444" stroke-width="0.8"/><line x1="246.4" y1="183" x2="248.79999999999998" y2="183" stroke="#444" stroke-width="0.8"/>
<line x1="261.9" y1="192.1" x2="261.9" y2="160.8" stroke="#707070" stroke-width="1.05"/><line x1="255.59999999999997" y1="191.79999999999998" x2="268.2" y2="191.79999999999998" stroke="#444" stroke-width="1.2"/><line x1="260.7" y1="178" x2="263.09999999999997" y2="178" stroke="#444" stroke-width="0.8"/><line x1="260.7" y1="183" x2="263.09999999999997" y2="183" stroke="#444" stroke-width="0.8"/>
<line x1="276.2" y1="190.2" x2="276.2" y2="145.4" stroke="#4a4a4a" stroke-width="1.1"/>
<path d="M269.20,192.20 C269.45,191.83 269.87,190.78 270.70,190.00 C271.53,189.22 273.62,188.25 274.20,187.50 C274.78,186.75 274.33,186.25 274.20,185.50 C274.07,184.75 273.40,183.92 273.40,183.00 C273.40,182.08 273.90,181.33 274.20,180.00 C274.50,178.67 274.94,177.50 275.20,175.00 C275.46,172.50 275.66,166.67 275.75,165.00 L276.65,165.00 C276.74,166.67 276.94,172.50 277.20,175.00 C277.46,177.50 277.90,178.67 278.20,180.00 C278.50,181.33 279.00,182.08 279.00,183.00 C279.00,183.92 278.33,184.75 278.20,185.50 C278.07,186.25 277.62,186.75 278.20,187.50 C278.78,188.25 280.87,189.22 281.70,190.00 C282.53,190.78 282.95,191.83 283.20,192.20 Z" fill="#1BAFE3" stroke="#3a3a3a" stroke-width="0.55"/>
<line x1="290.5" y1="192.1" x2="290.5" y2="165" stroke="#707070" stroke-width="1.05"/><line x1="284.2" y1="191.79999999999998" x2="296.8" y2="191.79999999999998" stroke="#444" stroke-width="1.2"/><line x1="289.3" y1="178" x2="291.7" y2="178" stroke="#444" stroke-width="0.8"/><line x1="289.3" y1="183" x2="291.7" y2="183" stroke="#444" stroke-width="0.8"/>
<line x1="304.8" y1="192.1" x2="304.8" y2="170.8" stroke="#707070" stroke-width="1.05"/><line x1="298.5" y1="191.79999999999998" x2="311.1" y2="191.79999999999998" stroke="#444" stroke-width="1.2"/><line x1="303.6" y1="183" x2="306.0" y2="183" stroke="#444" stroke-width="0.8"/>
<path d="M210.4,143.8 L210.4,195 L312.8,195" fill="none" stroke="#222" stroke-width="1.3"/>
<line x1="207.4" y1="147.7" x2="210.4" y2="147.7" stroke="#222" stroke-width="1"/>
<text x="204.4" y="150.7" text-anchor="end" font-size="8.6" fill="#222" font-family="Liberation Sans, sans-serif" textLength="8.2" lengthAdjust="spacingAndGlyphs">30</text>
<line x1="207.4" y1="162.7" x2="210.4" y2="162.7" stroke="#222" stroke-width="1"/>
<text x="204.4" y="165.7" text-anchor="end" font-size="8.6" fill="#222" font-family="Liberation Sans, sans-serif" textLength="8.2" lengthAdjust="spacingAndGlyphs">10</text>
<line x1="207.4" y1="178.2" x2="210.4" y2="178.2" stroke="#222" stroke-width="1"/>
<text x="204.4" y="181.2" text-anchor="end" font-size="8.6" fill="#222" font-family="Liberation Sans, sans-serif">3</text>
<line x1="207.4" y1="192.2" x2="210.4" y2="192.2" stroke="#222" stroke-width="1"/>
<text x="204.4" y="195.2" text-anchor="end" font-size="8.6" fill="#222" font-family="Liberation Sans, sans-serif">1</text>
<line x1="219.0" y1="195" x2="219.0" y2="198" stroke="#222" stroke-width="1"/>
<text x="219.0" y="207.7" text-anchor="middle" font-size="8.6" fill="#222" font-family="Liberation Sans, sans-serif">0</text>
<line x1="233.3" y1="195" x2="233.3" y2="198" stroke="#222" stroke-width="1"/>
<text x="233.3" y="207.7" text-anchor="middle" font-size="8.6" fill="#222" font-family="Liberation Sans, sans-serif">2</text>
<line x1="247.6" y1="195" x2="247.6" y2="198" stroke="#222" stroke-width="1"/>
<text x="247.6" y="207.7" text-anchor="middle" font-size="8.6" fill="#222" font-family="Liberation Sans, sans-serif">4</text>
<line x1="261.9" y1="195" x2="261.9" y2="198" stroke="#222" stroke-width="1"/>
<text x="261.9" y="207.7" text-anchor="middle" font-size="8.6" fill="#222" font-family="Liberation Sans, sans-serif">7</text>
<line x1="276.2" y1="195" x2="276.2" y2="198" stroke="#222" stroke-width="1"/>
<text x="276.2" y="207.7" text-anchor="middle" font-size="8.6" fill="#222" font-family="Liberation Sans, sans-serif" textLength="8.1" lengthAdjust="spacingAndGlyphs">10</text>
<line x1="290.5" y1="195" x2="290.5" y2="198" stroke="#222" stroke-width="1"/>
<text x="290.5" y="207.7" text-anchor="middle" font-size="8.6" fill="#222" font-family="Liberation Sans, sans-serif" textLength="8.1" lengthAdjust="spacingAndGlyphs">16</text>
<line x1="304.8" y1="195" x2="304.8" y2="198" stroke="#222" stroke-width="1"/>
<text x="304.8" y="207.7" text-anchor="middle" font-size="8.6" fill="#222" font-family="Liberation Sans, sans-serif" textLength="8.1" lengthAdjust="spacingAndGlyphs">18</text>
<text x="261.9" y="222" text-anchor="middle" font-size="9.2" fill="#333" font-family="Liberation Sans, sans-serif" textLength="26.5" lengthAdjust="spacingAndGlyphs">Identity</text>
<text x="261.9" y="136.9" text-anchor="middle" font-size="10" fill="#1a1a1a" font-family="Liberation Sans, sans-serif">Mrc1</text>
<text transform="translate(183.7,169.4) rotate(-90)" text-anchor="middle" font-size="9.6" fill="#333" font-family="Liberation Sans, sans-serif" textLength="58" lengthAdjust="spacingAndGlyphs">Expression level</text>
<line x1="380" y1="192.1" x2="380" y2="171" stroke="#707070" stroke-width="1.05"/><line x1="373.7" y1="191.79999999999998" x2="386.3" y2="191.79999999999998" stroke="#444" stroke-width="1.2"/><line x1="378.8" y1="186" x2="381.2" y2="186" stroke="#444" stroke-width="0.8"/>
<line x1="394.4" y1="190.2" x2="394.4" y2="148" stroke="#4a4a4a" stroke-width="1.1"/>
<path d="M387.90,192.20 C387.98,191.83 388.15,190.70 388.40,190.00 C388.65,189.30 389.40,189.00 389.40,188.00 C389.40,187.00 388.65,185.67 388.40,184.00 C388.15,182.33 387.73,180.33 387.90,178.00 C388.07,175.67 388.82,172.33 389.40,170.00 C389.98,167.67 390.73,166.00 391.40,164.00 C392.07,162.00 392.97,159.50 393.40,158.00 C393.82,156.50 393.86,155.50 393.95,155.00 L394.85,155.00 C394.94,155.50 394.97,156.50 395.40,158.00 C395.82,159.50 396.73,162.00 397.40,164.00 C398.07,166.00 398.82,167.67 399.40,170.00 C399.98,172.33 400.73,175.67 400.90,178.00 C401.07,180.33 400.65,182.33 400.40,184.00 C400.15,185.67 399.40,187.00 399.40,188.00 C399.40,189.00 400.15,189.30 400.40,190.00 C400.65,190.70 400.82,191.83 400.90,192.20 Z" fill="#C49A1E" stroke="#3a3a3a" stroke-width="0.55"/>
<line x1="408.6" y1="192.1" x2="408.6" y2="173" stroke="#707070" stroke-width="1.05"/><line x1="402.3" y1="191.79999999999998" x2="414.90000000000003" y2="191.79999999999998" stroke="#444" stroke-width="1.2"/><line x1="407.40000000000003" y1="186" x2="409.8" y2="186" stroke="#444" stroke-width="0.8"/>
<line x1="423" y1="192.1" x2="423" y2="166" stroke="#707070" stroke-width="1.05"/><line x1="416.7" y1="191.79999999999998" x2="429.3" y2="191.79999999999998" stroke="#444" stroke-width="1.2"/><line x1="421.8" y1="180" x2="424.2" y2="180" stroke="#444" stroke-width="0.8"/><line x1="421.8" y1="186" x2="424.2" y2="186" stroke="#444" stroke-width="0.8"/>
<path d="M430.40,192.20 C430.48,191.83 430.57,190.87 430.90,190.00 C431.23,189.13 431.82,188.33 432.40,187.00 C432.98,185.67 433.90,183.83 434.40,182.00 C434.90,180.17 435.23,179.00 435.40,176.00 C435.57,173.00 435.32,168.00 435.40,164.00 C435.48,160.00 435.64,154.83 435.90,152.00 C436.16,149.17 436.77,148.17 436.95,147.00 C437.12,145.83 436.95,145.33 436.95,145.00 L437.85,145.00 C437.85,145.33 437.67,145.83 437.85,147.00 C438.02,148.17 438.64,149.17 438.90,152.00 C439.16,154.83 439.32,160.00 439.40,164.00 C439.48,168.00 439.23,173.00 439.40,176.00 C439.57,179.00 439.90,180.17 440.40,182.00 C440.90,183.83 441.82,185.67 442.40,187.00 C442.98,188.33 443.57,189.13 443.90,190.00 C444.23,190.87 444.32,191.83 444.40,192.20 Z" fill="#1BAFE3" stroke="#3a3a3a" stroke-width="0.55"/>
<line x1="452" y1="192.1" x2="452" y2="168" stroke="#707070" stroke-width="1.05"/><line x1="445.7" y1="191.79999999999998" x2="458.3" y2="191.79999999999998" stroke="#444" stroke-width="1.2"/><line x1="450.8" y1="186" x2="453.2" y2="186" stroke="#444" stroke-width="0.8"/>
<path d="M465.55,187.00 C465.38,186.50 464.76,185.50 464.50,184.00 C464.24,182.50 464.25,180.33 464.00,178.00 C463.75,175.67 463.50,172.33 463.00,170.00 C462.50,167.67 461.67,166.00 461.00,164.00 C460.33,162.00 459.17,160.00 459.00,158.00 C458.83,156.00 459.42,153.45 460.00,152.00 C460.58,150.55 461.50,149.80 462.50,149.30 C463.50,148.80 465.42,149.05 466.00,149.00 L466.00,149.00 C466.58,149.05 468.50,148.80 469.50,149.30 C470.50,149.80 471.42,150.55 472.00,152.00 C472.58,153.45 473.17,156.00 473.00,158.00 C472.83,160.00 471.67,162.00 471.00,164.00 C470.33,166.00 469.50,167.67 469.00,170.00 C468.50,172.33 468.25,175.67 468.00,178.00 C467.75,180.33 467.76,182.50 467.50,184.00 C467.24,185.50 466.62,186.50 466.45,187.00 Z" fill="#DE62B4" stroke="#3a3a3a" stroke-width="0.55"/>
<path d="M371,143 L371,195 L474,195" fill="none" stroke="#222" stroke-width="1.3"/>
<line x1="368" y1="151.6" x2="371" y2="151.6" stroke="#222" stroke-width="1"/>
<text x="365" y="154.6" text-anchor="end" font-size="8.6" fill="#222" font-family="Liberation Sans, sans-serif" textLength="12.3" lengthAdjust="spacingAndGlyphs">100</text>
<line x1="368" y1="171.8" x2="371" y2="171.8" stroke="#222" stroke-width="1"/>
<text x="365" y="174.8" text-anchor="end" font-size="8.6" fill="#222" font-family="Liberation Sans, sans-serif" textLength="8.2" lengthAdjust="spacingAndGlyphs">10</text>
<line x1="368" y1="192.3" x2="371" y2="192.3" stroke="#222" stroke-width="1"/>
<text x="365" y="195.3" text-anchor="end" font-size="8.6" fill="#222" font-family="Liberation Sans, sans-serif">1</text>
<line x1="380" y1="195" x2="380" y2="198" stroke="#222" stroke-width="1"/>
<text x="380" y="207.7" text-anchor="middle" font-size="8.6" fill="#222" font-family="Liberation Sans, sans-serif">0</text>
<line x1="394.4" y1="195" x2="394.4" y2="198" stroke="#222" stroke-width="1"/>
<text x="394.4" y="207.7" text-anchor="middle" font-size="8.6" fill="#222" font-family="Liberation Sans, sans-serif">2</text>
<line x1="408.6" y1="195" x2="408.6" y2="198" stroke="#222" stroke-width="1"/>
<text x="408.6" y="207.7" text-anchor="middle" font-size="8.6" fill="#222" font-family="Liberation Sans, sans-serif">4</text>
<line x1="423" y1="195" x2="423" y2="198" stroke="#222" stroke-width="1"/>
<text x="423" y="207.7" text-anchor="middle" font-size="8.6" fill="#222" font-family="Liberation Sans, sans-serif">7</text>
<line x1="437.4" y1="195" x2="437.4" y2="198" stroke="#222" stroke-width="1"/>
<text x="437.4" y="207.7" text-anchor="middle" font-size="8.6" fill="#222" font-family="Liberation Sans, sans-serif" textLength="8.1" lengthAdjust="spacingAndGlyphs">10</text>
<line x1="452" y1="195" x2="452" y2="198" stroke="#222" stroke-width="1"/>
<text x="452" y="207.7" text-anchor="middle" font-size="8.6" fill="#222" font-family="Liberation Sans, sans-serif" textLength="8.1" lengthAdjust="spacingAndGlyphs">16</text>
<line x1="466" y1="195" x2="466" y2="198" stroke="#222" stroke-width="1"/>
<text x="466" y="207.7" text-anchor="middle" font-size="8.6" fill="#222" font-family="Liberation Sans, sans-serif" textLength="8.1" lengthAdjust="spacingAndGlyphs">18</text>
<text x="423" y="222" text-anchor="middle" font-size="9.2" fill="#333" font-family="Liberation Sans, sans-serif" textLength="26.5" lengthAdjust="spacingAndGlyphs">Identity</text>
<text x="423" y="136.9" text-anchor="middle" font-size="10" fill="#1a1a1a" font-family="Liberation Sans, sans-serif">C1qa</text>
<text transform="translate(346.3,169.0) rotate(-90)" text-anchor="middle" font-size="9.6" fill="#333" font-family="Liberation Sans, sans-serif" textLength="58" lengthAdjust="spacingAndGlyphs">Expression level</text>
<line x1="57" y1="296.8" x2="57" y2="276" stroke="#707070" stroke-width="1.05"/><line x1="50.7" y1="296.5" x2="63.3" y2="296.5" stroke="#444" stroke-width="1.2"/><line x1="55.8" y1="289" x2="58.2" y2="289" stroke="#444" stroke-width="0.8"/>
<line x1="71.6" y1="295" x2="71.6" y2="250" stroke="#4a4a4a" stroke-width="1.1"/>
<path d="M65.10,297.00 C65.18,296.67 65.27,296.00 65.60,295.00 C65.93,294.00 67.10,292.50 67.10,291.00 C67.10,289.50 65.85,287.83 65.60,286.00 C65.35,284.17 65.27,282.33 65.60,280.00 C65.93,277.67 67.02,274.33 67.60,272.00 C68.18,269.67 68.60,268.33 69.10,266.00 C69.60,263.67 70.26,260.00 70.60,258.00 C70.94,256.00 71.06,254.67 71.15,254.00 L72.05,254.00 C72.14,254.67 72.26,256.00 72.60,258.00 C72.94,260.00 73.60,263.67 74.10,266.00 C74.60,268.33 75.02,269.67 75.60,272.00 C76.18,274.33 77.27,277.67 77.60,280.00 C77.93,282.33 77.85,284.17 77.60,286.00 C77.35,287.83 76.10,289.50 76.10,291.00 C76.10,292.50 77.27,294.00 77.60,295.00 C77.93,296.00 78.02,296.67 78.10,297.00 Z" fill="#C49A1E" stroke="#3a3a3a" stroke-width="0.55"/>
<line x1="86" y1="296.8" x2="86" y2="276" stroke="#707070" stroke-width="1.05"/><line x1="79.7" y1="296.5" x2="92.3" y2="296.5" stroke="#444" stroke-width="1.2"/><line x1="84.8" y1="289" x2="87.2" y2="289" stroke="#444" stroke-width="0.8"/>
<line x1="100.4" y1="296.8" x2="100.4" y2="270" stroke="#707070" stroke-width="1.05"/><line x1="94.10000000000001" y1="296.5" x2="106.7" y2="296.5" stroke="#444" stroke-width="1.2"/><line x1="99.2" y1="282" x2="101.60000000000001" y2="282" stroke="#444" stroke-width="0.8"/><line x1="99.2" y1="289" x2="101.60000000000001" y2="289" stroke="#444" stroke-width="0.8"/>
<path d="M108.10,297.00 C108.18,296.67 108.27,295.83 108.60,295.00 C108.93,294.17 109.77,293.00 110.10,292.00 C110.43,291.00 110.35,290.33 110.60,289.00 C110.85,287.67 111.35,286.50 111.60,284.00 C111.85,281.50 112.02,277.33 112.10,274.00 C112.18,270.67 112.02,267.00 112.10,264.00 C112.18,261.00 112.40,258.00 112.60,256.00 C112.80,254.00 113.04,252.83 113.30,252.00 C113.56,251.17 114.01,251.17 114.15,251.00 L115.05,251.00 C115.19,251.17 115.64,251.17 115.90,252.00 C116.16,252.83 116.40,254.00 116.60,256.00 C116.80,258.00 117.02,261.00 117.10,264.00 C117.18,267.00 117.02,270.67 117.10,274.00 C117.18,277.33 117.35,281.50 117.60,284.00 C117.85,286.50 118.35,287.67 118.60,289.00 C118.85,290.33 118.77,291.00 119.10,292.00 C119.43,293.00 120.27,294.17 120.60,295.00 C120.93,295.83 121.02,296.67 121.10,297.00 Z" fill="#1BAFE3" stroke="#3a3a3a" stroke-width="0.55"/>
<line x1="129" y1="296.8" x2="129" y2="274" stroke="#707070" stroke-width="1.05"/><line x1="122.7" y1="296.5" x2="135.3" y2="296.5" stroke="#444" stroke-width="1.2"/><line x1="127.8" y1="289" x2="130.2" y2="289" stroke="#444" stroke-width="0.8"/>
<path d="M143.15,286.00 C143.06,285.83 142.78,285.67 142.60,285.00 C142.42,284.33 142.35,283.50 142.10,282.00 C141.85,280.50 141.43,278.00 141.10,276.00 C140.77,274.00 140.52,272.00 140.10,270.00 C139.68,268.00 139.10,266.00 138.60,264.00 C138.10,262.00 137.27,260.00 137.10,258.00 C136.93,256.00 137.10,253.45 137.60,252.00 C138.10,250.55 139.10,249.80 140.10,249.30 C141.10,248.80 143.02,249.05 143.60,249.00 L143.60,249.00 C144.18,249.05 146.10,248.80 147.10,249.30 C148.10,249.80 149.10,250.55 149.60,252.00 C150.10,253.45 150.27,256.00 150.10,258.00 C149.93,260.00 149.10,262.00 148.60,264.00 C148.10,266.00 147.52,268.00 147.10,270.00 C146.68,272.00 146.43,274.00 146.10,276.00 C145.77,278.00 145.35,280.50 145.10,282.00 C144.85,283.50 144.78,284.33 144.60,285.00 C144.42,285.67 144.14,285.83 144.05,286.00 Z" fill="#DE62B4" stroke="#3a3a3a" stroke-width="0.55"/>
<path d="M49,247 L49,299.5 L151.6,299.5" fill="none" stroke="#222" stroke-width="1.3"/>
<line x1="46" y1="251" x2="49" y2="251" stroke="#222" stroke-width="1"/>
<text x="43" y="254" text-anchor="end" font-size="8.6" fill="#222" font-family="Liberation Sans, sans-serif" textLength="12.3" lengthAdjust="spacingAndGlyphs">100</text>
<line x1="46" y1="274" x2="49" y2="274" stroke="#222" stroke-width="1"/>
<text x="43" y="277" text-anchor="end" font-size="8.6" fill="#222" font-family="Liberation Sans, sans-serif" textLength="8.2" lengthAdjust="spacingAndGlyphs">10</text>
<line x1="46" y1="296.8" x2="49" y2="296.8" stroke="#222" stroke-width="1"/>
<text x="43" y="299.8" text-anchor="end" font-size="8.6" fill="#222" font-family="Liberation Sans, sans-serif">1</text>
<line x1="57" y1="299.5" x2="57" y2="302.5" stroke="#222" stroke-width="1"/>
<text x="57" y="311.5" text-anchor="middle" font-size="8.6" fill="#222" font-family="Liberation Sans, sans-serif">0</text>
<line x1="71.6" y1="299.5" x2="71.6" y2="302.5" stroke="#222" stroke-width="1"/>
<text x="71.6" y="311.5" text-anchor="middle" font-size="8.6" fill="#222" font-family="Liberation Sans, sans-serif">2</text>
<line x1="86" y1="299.5" x2="86" y2="302.5" stroke="#222" stroke-width="1"/>
<text x="86" y="311.5" text-anchor="middle" font-size="8.6" fill="#222" font-family="Liberation Sans, sans-serif">4</text>
<line x1="100.4" y1="299.5" x2="100.4" y2="302.5" stroke="#222" stroke-width="1"/>
<text x="100.4" y="311.5" text-anchor="middle" font-size="8.6" fill="#222" font-family="Liberation Sans, sans-serif">7</text>
<line x1="114.6" y1="299.5" x2="114.6" y2="302.5" stroke="#222" stroke-width="1"/>
<text x="114.6" y="311.5" text-anchor="middle" font-size="8.6" fill="#222" font-family="Liberation Sans, sans-serif" textLength="8.1" lengthAdjust="spacingAndGlyphs">10</text>
<line x1="129" y1="299.5" x2="129" y2="302.5" stroke="#222" stroke-width="1"/>
<text x="129" y="311.5" text-anchor="middle" font-size="8.6" fill="#222" font-family="Liberation Sans, sans-serif" textLength="8.1" lengthAdjust="spacingAndGlyphs">16</text>
<line x1="143.6" y1="299.5" x2="143.6" y2="302.5" stroke="#222" stroke-width="1"/>
<text x="143.6" y="311.5" text-anchor="middle" font-size="8.6" fill="#222" font-family="Liberation Sans, sans-serif" textLength="8.1" lengthAdjust="spacingAndGlyphs">18</text>
<text x="100.4" y="325.7" text-anchor="middle" font-size="9.2" fill="#333" font-family="Liberation Sans, sans-serif" textLength="26.5" lengthAdjust="spacingAndGlyphs">Identity</text>
<text x="100.4" y="241.5" text-anchor="middle" font-size="10" fill="#1a1a1a" font-family="Liberation Sans, sans-serif">C1qc</text>
<text transform="translate(22.7,273.25) rotate(-90)" text-anchor="middle" font-size="9.6" fill="#333" font-family="Liberation Sans, sans-serif" textLength="58" lengthAdjust="spacingAndGlyphs">Expression level</text>
<line x1="219.0" y1="296.8" x2="219.0" y2="273.4" stroke="#707070" stroke-width="1.05"/><line x1="212.7" y1="296.5" x2="225.3" y2="296.5" stroke="#444" stroke-width="1.2"/><line x1="217.8" y1="290" x2="220.2" y2="290" stroke="#444" stroke-width="0.8"/>
<path d="M226.30,296.70 C226.47,296.25 226.63,294.95 227.30,294.00 C227.97,293.05 229.72,292.00 230.30,291.00 C230.88,290.00 230.92,289.50 230.80,288.00 C230.68,286.50 229.72,284.67 229.60,282.00 C229.48,279.33 229.82,275.33 230.10,272.00 C230.38,268.67 230.93,264.83 231.30,262.00 C231.67,259.17 232.04,257.08 232.30,255.00 C232.56,252.92 232.76,250.42 232.85,249.50 L233.75,249.50 C233.84,250.42 234.04,252.92 234.30,255.00 C234.56,257.08 234.93,259.17 235.30,262.00 C235.67,264.83 236.22,268.67 236.50,272.00 C236.78,275.33 237.12,279.33 237.00,282.00 C236.88,284.67 235.92,286.50 235.80,288.00 C235.68,289.50 235.72,290.00 236.30,291.00 C236.88,292.00 238.63,293.05 239.30,294.00 C239.97,294.95 240.13,296.25 240.30,296.70 Z" fill="#C49A1E" stroke="#3a3a3a" stroke-width="0.55"/>
<line x1="247.6" y1="296.8" x2="247.6" y2="274.3" stroke="#707070" stroke-width="1.05"/><line x1="241.29999999999998" y1="296.5" x2="253.9" y2="296.5" stroke="#444" stroke-width="1.2"/><line x1="246.4" y1="290" x2="248.79999999999998" y2="290" stroke="#444" stroke-width="0.8"/>
<line x1="261.9" y1="296.8" x2="261.9" y2="259.5" stroke="#707070" stroke-width="1.05"/><line x1="255.59999999999997" y1="296.5" x2="268.2" y2="296.5" stroke="#444" stroke-width="1.2"/><line x1="260.7" y1="290" x2="263.09999999999997" y2="290" stroke="#444" stroke-width="0.8"/>
<line x1="276.2" y1="296.8" x2="276.2" y2="260.7" stroke="#707070" stroke-width="1.05"/><line x1="269.9" y1="296.5" x2="282.5" y2="296.5" stroke="#444" stroke-width="1.2"/><line x1="275.0" y1="290" x2="277.4" y2="290" stroke="#444" stroke-width="0.8"/>
<line x1="290.5" y1="296.8" x2="290.5" y2="271.7" stroke="#707070" stroke-width="1.05"/><line x1="284.2" y1="296.5" x2="296.8" y2="296.5" stroke="#444" stroke-width="1.2"/><line x1="289.3" y1="284" x2="291.7" y2="284" stroke="#444" stroke-width="0.8"/><line x1="289.3" y1="290" x2="291.7" y2="290" stroke="#444" stroke-width="0.8"/>
<path d="M297.80,296.70 C297.80,296.25 297.63,295.12 297.80,294.00 C297.97,292.88 298.30,291.33 298.80,290.00 C299.30,288.67 300.18,287.67 300.80,286.00 C301.42,284.33 302.08,282.33 302.50,280.00 C302.92,277.67 302.99,274.67 303.30,272.00 C303.61,269.33 304.18,266.23 304.35,264.00 C304.53,261.77 304.35,259.50 304.35,258.60 L305.25,258.60 C305.25,259.50 305.07,261.77 305.25,264.00 C305.43,266.23 305.99,269.33 306.30,272.00 C306.61,274.67 306.68,277.67 307.10,280.00 C307.52,282.33 308.18,284.33 308.80,286.00 C309.42,287.67 310.30,288.67 310.80,290.00 C311.30,291.33 311.63,292.88 311.80,294.00 C311.97,295.12 311.80,296.25 311.80,296.70 Z" fill="#DE62B4" stroke="#3a3a3a" stroke-width="0.55"/>
<path d="M210.3,247.4 L210.3,299.5 L312.8,299.5" fill="none" stroke="#222" stroke-width="1.3"/>
<line x1="207.3" y1="255.9" x2="210.3" y2="255.9" stroke="#222" stroke-width="1"/>
<text x="204.3" y="258.9" text-anchor="end" font-size="8.6" fill="#222" font-family="Liberation Sans, sans-serif" textLength="12.3" lengthAdjust="spacingAndGlyphs">100</text>
<line x1="207.3" y1="276.4" x2="210.3" y2="276.4" stroke="#222" stroke-width="1"/>
<text x="204.3" y="279.4" text-anchor="end" font-size="8.6" fill="#222" font-family="Liberation Sans, sans-serif" textLength="8.2" lengthAdjust="spacingAndGlyphs">10</text>
<line x1="207.3" y1="296.7" x2="210.3" y2="296.7" stroke="#222" stroke-width="1"/>
<text x="204.3" y="299.7" text-anchor="end" font-size="8.6" fill="#222" font-family="Liberation Sans, sans-serif">1</text>
<line x1="219.0" y1="299.5" x2="219.0" y2="302.5" stroke="#222" stroke-width="1"/>
<text x="219.0" y="311.5" text-anchor="middle" font-size="8.6" fill="#222" font-family="Liberation Sans, sans-serif">0</text>
<line x1="233.3" y1="299.5" x2="233.3" y2="302.5" stroke="#222" stroke-width="1"/>
<text x="233.3" y="311.5" text-anchor="middle" font-size="8.6" fill="#222" font-family="Liberation Sans, sans-serif">2</text>
<line x1="247.6" y1="299.5" x2="247.6" y2="302.5" stroke="#222" stroke-width="1"/>
<text x="247.6" y="311.5" text-anchor="middle" font-size="8.6" fill="#222" font-family="Liberation Sans, sans-serif">4</text>
<line x1="261.9" y1="299.5" x2="261.9" y2="302.5" stroke="#222" stroke-width="1"/>
<text x="261.9" y="311.5" text-anchor="middle" font-size="8.6" fill="#222" font-family="Liberation Sans, sans-serif">7</text>
<line x1="276.2" y1="299.5" x2="276.2" y2="302.5" stroke="#222" stroke-width="1"/>
<text x="276.2" y="311.5" text-anchor="middle" font-size="8.6" fill="#222" font-family="Liberation Sans, sans-serif" textLength="8.1" lengthAdjust="spacingAndGlyphs">10</text>
<line x1="290.5" y1="299.5" x2="290.5" y2="302.5" stroke="#222" stroke-width="1"/>
<text x="290.5" y="311.5" text-anchor="middle" font-size="8.6" fill="#222" font-family="Liberation Sans, sans-serif" textLength="8.1" lengthAdjust="spacingAndGlyphs">16</text>
<line x1="304.8" y1="299.5" x2="304.8" y2="302.5" stroke="#222" stroke-width="1"/>
<text x="304.8" y="311.5" text-anchor="middle" font-size="8.6" fill="#222" font-family="Liberation Sans, sans-serif" textLength="8.1" lengthAdjust="spacingAndGlyphs">18</text>
<text x="261.9" y="325.7" text-anchor="middle" font-size="9.2" fill="#333" font-family="Liberation Sans, sans-serif" textLength="26.5" lengthAdjust="spacingAndGlyphs">Identity</text>
<text x="261.9" y="241.5" text-anchor="middle" font-size="10" fill="#1a1a1a" font-family="Liberation Sans, sans-serif">Marco</text>
<text transform="translate(183.7,273.45) rotate(-90)" text-anchor="middle" font-size="9.6" fill="#333" font-family="Liberation Sans, sans-serif" textLength="58" lengthAdjust="spacingAndGlyphs">Expression level</text>
<line x1="380" y1="296.8" x2="380" y2="273" stroke="#707070" stroke-width="1.05"/><line x1="373.7" y1="296.5" x2="386.3" y2="296.5" stroke="#444" stroke-width="1.2"/>
<line x1="394.4" y1="295.2" x2="394.4" y2="249" stroke="#4a4a4a" stroke-width="1.1"/>
<path d="M387.40,297.20 C387.43,297.07 387.43,296.77 387.60,296.40 C387.77,296.03 388.02,295.73 388.40,295.00 C388.78,294.27 389.32,293.17 389.90,292.00 C390.48,290.83 391.40,290.00 391.90,288.00 C392.40,286.00 392.65,283.33 392.90,280.00 C393.15,276.67 393.22,271.33 393.40,268.00 C393.57,264.67 393.86,262.00 393.95,260.00 C394.04,258.00 393.95,256.67 393.95,256.00 L394.85,256.00 C394.85,256.67 394.76,258.00 394.85,260.00 C394.94,262.00 395.22,264.67 395.40,268.00 C395.57,271.33 395.65,276.67 395.90,280.00 C396.15,283.33 396.40,286.00 396.90,288.00 C397.40,290.00 398.32,290.83 398.90,292.00 C399.48,293.17 400.02,294.27 400.40,295.00 C400.78,295.73 401.03,296.03 401.20,296.40 C401.37,296.77 401.37,297.07 401.40,297.20 Z" fill="#C49A1E" stroke="#3a3a3a" stroke-width="0.55"/>
<line x1="408.6" y1="296.8" x2="408.6" y2="267" stroke="#707070" stroke-width="1.05"/><line x1="402.3" y1="296.5" x2="414.90000000000003" y2="296.5" stroke="#444" stroke-width="1.2"/><line x1="407.40000000000003" y1="284" x2="409.8" y2="284" stroke="#444" stroke-width="0.8"/>
<line x1="423" y1="296.8" x2="423" y2="273" stroke="#707070" stroke-width="1.05"/><line x1="416.7" y1="296.5" x2="429.3" y2="296.5" stroke="#444" stroke-width="1.2"/><line x1="421.8" y1="289" x2="424.2" y2="289" stroke="#444" stroke-width="0.8"/>
<line x1="437.6" y1="296.8" x2="437.6" y2="267" stroke="#707070" stroke-width="1.05"/><line x1="431.3" y1="296.5" x2="443.90000000000003" y2="296.5" stroke="#444" stroke-width="1.2"/><line x1="436.40000000000003" y1="284" x2="438.8" y2="284" stroke="#444" stroke-width="0.8"/>
<line x1="452" y1="296.8" x2="452" y2="271.6" stroke="#707070" stroke-width="1.05"/><line x1="445.7" y1="296.5" x2="458.3" y2="296.5" stroke="#444" stroke-width="1.2"/><line x1="450.8" y1="284" x2="453.2" y2="284" stroke="#444" stroke-width="0.8"/>
<line x1="466.4" y1="296.8" x2="466.4" y2="284" stroke="#707070" stroke-width="1.05"/><line x1="460.09999999999997" y1="296.5" x2="472.7" y2="296.5" stroke="#444" stroke-width="1.2"/><line x1="465.2" y1="290" x2="467.59999999999997" y2="290" stroke="#444" stroke-width="0.8"/>
<path d="M370.9,246.8 L370.9,299.5 L474.4,299.5" fill="none" stroke="#222" stroke-width="1.3"/>
<line x1="367.9" y1="257.6" x2="370.9" y2="257.6" stroke="#222" stroke-width="1"/>
<text x="364.9" y="260.6" text-anchor="end" font-size="8.6" fill="#222" font-family="Liberation Sans, sans-serif" textLength="8.2" lengthAdjust="spacingAndGlyphs">30</text>
<line x1="367.9" y1="270.7" x2="370.9" y2="270.7" stroke="#222" stroke-width="1"/>
<text x="364.9" y="273.7" text-anchor="end" font-size="8.6" fill="#222" font-family="Liberation Sans, sans-serif" textLength="8.2" lengthAdjust="spacingAndGlyphs">10</text>
<line x1="367.9" y1="284.4" x2="370.9" y2="284.4" stroke="#222" stroke-width="1"/>
<text x="364.9" y="287.4" text-anchor="end" font-size="8.6" fill="#222" font-family="Liberation Sans, sans-serif">3</text>
<line x1="367.9" y1="297.5" x2="370.9" y2="297.5" stroke="#222" stroke-width="1"/>
<text x="364.9" y="300.5" text-anchor="end" font-size="8.6" fill="#222" font-family="Liberation Sans, sans-serif">1</text>
<line x1="380" y1="299.5" x2="380" y2="302.5" stroke="#222" stroke-width="1"/>
<text x="380" y="311.5" text-anchor="middle" font-size="8.6" fill="#222" font-family="Liberation Sans, sans-serif">0</text>
<line x1="394.4" y1="299.5" x2="394.4" y2="302.5" stroke="#222" stroke-width="1"/>
<text x="394.4" y="311.5" text-anchor="middle" font-size="8.6" fill="#222" font-family="Liberation Sans, sans-serif">2</text>
<line x1="408.6" y1="299.5" x2="408.6" y2="302.5" stroke="#222" stroke-width="1"/>
<text x="408.6" y="311.5" text-anchor="middle" font-size="8.6" fill="#222" font-family="Liberation Sans, sans-serif">4</text>
<line x1="423" y1="299.5" x2="423" y2="302.5" stroke="#222" stroke-width="1"/>
<text x="423" y="311.5" text-anchor="middle" font-size="8.6" fill="#222" font-family="Liberation Sans, sans-serif">7</text>
<line x1="437.6" y1="299.5" x2="437.6" y2="302.5" stroke="#222" stroke-width="1"/>
<text x="437.6" y="311.5" text-anchor="middle" font-size="8.6" fill="#222" font-family="Liberation Sans, sans-serif" textLength="8.1" lengthAdjust="spacingAndGlyphs">10</text>
<line x1="452" y1="299.5" x2="452" y2="302.5" stroke="#222" stroke-width="1"/>
<text x="452" y="311.5" text-anchor="middle" font-size="8.6" fill="#222" font-family="Liberation Sans, sans-serif" textLength="8.1" lengthAdjust="spacingAndGlyphs">16</text>
<line x1="466.4" y1="299.5" x2="466.4" y2="302.5" stroke="#222" stroke-width="1"/>
<text x="466.4" y="311.5" text-anchor="middle" font-size="8.6" fill="#222" font-family="Liberation Sans, sans-serif" textLength="8.1" lengthAdjust="spacingAndGlyphs">18</text>
<text x="423" y="325.7" text-anchor="middle" font-size="9.2" fill="#333" font-family="Liberation Sans, sans-serif" textLength="26.5" lengthAdjust="spacingAndGlyphs">Identity</text>
<text x="423" y="241.5" text-anchor="middle" font-size="10" fill="#1a1a1a" font-family="Liberation Sans, sans-serif">Clec4f</text>
<text transform="translate(346.3,273.15) rotate(-90)" text-anchor="middle" font-size="9.6" fill="#333" font-family="Liberation Sans, sans-serif" textLength="58" lengthAdjust="spacingAndGlyphs">Expression level</text>
<rect x="484.3" y="28.10" width="6.8" height="6.8" fill="#EE7569"/>
<text x="494" y="34.70" font-size="9" fill="#333" font-family="Liberation Sans, sans-serif">0</text>
<rect x="484.3" y="39.62" width="6.8" height="6.8" fill="#C49A1E"/>
<text x="494" y="46.22" font-size="9" fill="#333" font-family="Liberation Sans, sans-serif">2</text>
<rect x="484.3" y="51.14" width="6.8" height="6.8" fill="#5BB233"/>
<text x="494" y="57.74" font-size="9" fill="#333" font-family="Liberation Sans, sans-serif">4</text>
<rect x="484.3" y="62.66" width="6.8" height="6.8" fill="#25B083"/>
<text x="494" y="69.26" font-size="9" fill="#333" font-family="Liberation Sans, sans-serif">7</text>
<rect x="484.3" y="74.18" width="6.8" height="6.8" fill="#1BAFE3"/>
<text x="494" y="80.78" font-size="9" fill="#333" font-family="Liberation Sans, sans-serif">10</text>
<rect x="484.3" y="85.70" width="6.8" height="6.8" fill="#9486D6"/>
<text x="494" y="92.30" font-size="9" fill="#333" font-family="Liberation Sans, sans-serif">16</text>
<rect x="484.3" y="97.22" width="6.8" height="6.8" fill="#DE62B4"/>
<text x="494" y="103.82" font-size="9" fill="#333" font-family="Liberation Sans, sans-serif">18</text>
<filter id="tx" x="0" y="0" width="1" height="1" color-interpolation-filters="sRGB">
<feTurbulence type="fractalNoise" baseFrequency="0.22" numOctaves="3" seed="5" result="n"/>
<feColorMatrix in="n" type="matrix" values="1 0 0 0 0  1 0 0 0 0  1 0 0 0 0  0 0 0 0 1" result="g"/>
<feComposite in="SourceGraphic" in2="g" operator="arithmetic" k1="0" k2="1" k3="0.5" k4="-0.25" result="c"/>
<feComposite in="c" in2="SourceGraphic" operator="in"/>
</filter>
<filter id="tx2" x="0" y="0" width="1" height="1" color-interpolation-filters="sRGB">
<feTurbulence type="fractalNoise" baseFrequency="0.22" numOctaves="3" seed="13" result="n"/>
<feColorMatrix in="n" type="matrix" values="1 0 0 0 0  1 0 0 0 0  1 0 0 0 0  0 0 0 0 1" result="g"/>
<feComposite in="SourceGraphic" in2="g" operator="arithmetic" k1="0" k2="1" k3="0.5" k4="-0.25" result="c"/>
<feComposite in="c" in2="SourceGraphic" operator="in"/>
</filter>
<filter id="txs" x="0" y="0" width="1" height="1" color-interpolation-filters="sRGB">
<feTurbulence type="fractalNoise" baseFrequency="0.3" numOctaves="3" seed="3" result="n"/>
<feColorMatrix in="n" type="matrix" values="1 0 0 0 0  1 0 0 0 0  1 0 0 0 0  0 0 0 0 1" result="g"/>
<feComposite in="SourceGraphic" in2="g" operator="arithmetic" k1="0" k2="1" k3="0.14" k4="-0.07" result="c"/>
<feComposite in="c" in2="SourceGraphic" operator="in"/>
</filter>
<filter id="txm" x="0" y="0" width="1" height="1" color-interpolation-filters="sRGB">
<feTurbulence type="fractalNoise" baseFrequency="0.25" numOctaves="3" seed="8" result="n"/>
<feColorMatrix in="n" type="matrix" values="1 0 0 0 0  1 0 0 0 0  1 0 0 0 0  0 0 0 0 1" result="g"/>
<feComposite in="SourceGraphic" in2="g" operator="arithmetic" k1="0" k2="1" k3="0.45" k4="-0.225" result="c"/>
<feComposite in="c" in2="SourceGraphic" operator="in"/>
</filter>
<filter id="txd" x="0" y="0" width="1" height="1" color-interpolation-filters="sRGB">
<feTurbulence type="fractalNoise" baseFrequency="0.3" numOctaves="3" seed="17" result="n"/>
<feColorMatrix in="n" type="matrix" values="1 0 0 0 0  1 0 0 0 0  1 0 0 0 0  0 0 0 0 1" result="g"/>
<feComposite in="SourceGraphic" in2="g" operator="arithmetic" k1="0" k2="1" k3="0.6" k4="-0.3" result="c"/>
<feComposite in="c" in2="SourceGraphic" operator="in"/>
</filter>
<text x="7.3" y="353.8" font-size="11" font-weight="bold" fill="#111" font-family="Liberation Sans, sans-serif">B</text>
<rect x="14.5" y="371" width="240" height="1.6" fill="#444"/>
<rect x="265.2" y="372" width="239.2" height="1.6" fill="#444"/>
<text x="134.8" y="368.5" text-anchor="middle" font-size="10.8" font-style="italic" fill="#222" font-family="Liberation Sans, sans-serif">A/A</text>
<text x="384.8" y="369.3" text-anchor="middle" font-size="10.8" font-style="italic" fill="#222" font-family="Liberation Sans, sans-serif">S/S</text>
<clipPath id="cb1"><rect x="14.5" y="374" width="118.6" height="118.6"/></clipPath>
<g clip-path="url(#cb1)">
<rect x="14.5" y="374" width="118.6" height="118.6" fill="#7a7a7a" filter="url(#tx)"/>
<path d="M70.0,374.0 L134.0,374.0 L134.0,432.0 L128.0,432.0 L120.0,424.0 L108.6,415.8 L97.0,407.8 L85.5,398.5 L74.0,391.6 Z" fill="#8e8e8e" filter="url(#tx2)"/>
<path d="M112.0,374.0 C115.0,371.7 130.3,369.3 134.0,374.0 C137.7,378.7 135.7,398.0 134.0,402.0 C132.3,406.0 127.0,400.3 124.0,398.0 C121.0,395.7 118.0,392.0 116.0,388.0 C114.0,384.0 109.0,376.3 112.0,374.0Z" fill="#9e9e9e" filter="url(#txs)"/>
<path d="M101.0,374.0 L106.0,381.0 L114.0,390.0 L123.0,399.0" stroke="#acacac" stroke-width="5" fill="none" opacity="0.7"/>
<path d="M14.5,374.0 L70.0,374.0 L74.0,391.0 L14.5,390.0 Z" fill="#6e6e6e" filter="url(#txd)"/>
<path d="M14.5,456.0 L40.0,464.0 L74.0,475.0 L97.0,471.0 L118.0,461.0 L128.0,444.0 L134.0,430.0 L134.0,493.0 L14.5,493.0 Z" fill="#6a6a6a" filter="url(#txd)"/>
<path d="M14.5,478.0 L60.0,482.0 L100.0,480.0 L134.0,475.0 L134.0,493.0 L14.5,493.0 Z" fill="#787878" filter="url(#tx)"/>
<path d="M14.5,390.0 L22.0,389.5 L23.2,395.0 L21.0,404.3 L24.4,410.0 L25.5,418.0 L31.3,424.0 L36.0,432.0 L44.0,441.0 L52.0,449.0 L62.5,457.4 L74.0,466.0 L82.0,471.0 L80.0,474.5 L74.0,475.5 L62.5,472.4 L54.4,467.8 L42.8,464.3 L25.5,462.0 L14.5,457.4 Z" fill="#b0b0b0" filter="url(#txs)"/>
<ellipse cx="14.8" cy="452" rx="2.2" ry="5" fill="#3a3a3a"/>
<path d="M14.5,388.5 L22.0,387.0 L35.0,386.0 L50.0,386.5 L65.0,388.0 L74.0,390.3 L85.5,397.3 L97.0,406.6 L108.6,414.6 L120.0,422.8 L128.5,431.0" stroke="#3e3e3e" stroke-width="2.2" fill="none" opacity="0.7"/>
<path d="M129.0,428.0 L129.0,443.5 L125.0,453.0 L119.0,461.5 L109.0,467.5 L97.0,471.5 L85.5,472.8 L80.0,475.5 L74.0,477.0 L62.5,474.0 L54.4,469.5 L42.8,466.0 L25.5,463.5 L14.5,459.0" stroke="#404040" stroke-width="2.6" fill="none" stroke-linejoin="round"/>
<path d="M25.5,389.0 C28.3,387.8 35.1,388.1 40.0,388.0 C44.9,387.9 50.7,388.2 55.0,388.5 C59.3,388.8 62.8,389.0 66.0,389.5 C69.2,390.0 70.8,390.1 74.0,391.6 C77.2,393.1 81.7,395.8 85.5,398.5 C89.3,401.2 93.2,404.9 97.0,407.8 C100.8,410.7 104.8,413.1 108.6,415.8 C112.4,418.5 116.7,421.3 120.0,424.0 C123.3,426.7 126.9,428.8 128.2,432.0 C129.4,435.2 128.3,440.0 127.5,443.5 C126.7,447.0 125.2,449.9 123.6,452.8 C122.0,455.7 120.3,458.5 117.8,460.8 C115.3,463.1 112.1,465.1 108.6,466.6 C105.1,468.1 100.8,469.3 97.0,470.0 C93.2,470.7 89.3,471.5 85.5,471.0 C81.7,470.5 77.8,469.3 74.0,467.0 C70.2,464.7 66.2,460.4 62.5,457.4 C58.8,454.4 55.1,451.7 52.0,449.0 C48.9,446.3 46.7,443.8 44.0,441.0 C41.3,438.2 38.1,434.8 36.0,432.0 C33.9,429.2 33.0,426.3 31.3,424.0 C29.6,421.7 26.6,420.3 25.5,418.0 C24.4,415.7 25.1,412.3 24.4,410.0 C23.6,407.7 21.2,406.8 21.0,404.3 C20.8,401.8 22.4,397.6 23.2,395.0 C23.9,392.4 22.7,390.2 25.5,389.0Z" fill="#637f8b" filter="url(#txm)"/>
<path d="M26.0,395.0 L24.0,404.0 L27.0,412.0 L30.0,420.0" stroke="#4e6570" stroke-width="1.6" fill="none"/>
<ellipse cx="64.4" cy="410.5" rx="1.6" ry="1.3" fill="#1a1f24"/>
<ellipse cx="97.5" cy="410" rx="1.4" ry="1" fill="#e8eef2"/>
<text x="80.3" y="440.7" text-anchor="middle" font-size="9" fill="#fff" font-family="Liberation Sans, sans-serif" textLength="46" lengthAdjust="spacingAndGlyphs">Macrophage</text>
<text x="31.3" y="486.2" text-anchor="middle" font-size="8.4" fill="#fff" font-family="Liberation Sans, sans-serif" textLength="19.5" lengthAdjust="spacingAndGlyphs">2 µm</text>
<rect x="19.2" y="488.6" width="24.2" height="1.5" fill="#fff"/>
</g>
<clipPath id="cb2"><rect x="135" y="374" width="119.4" height="118.6"/></clipPath>
<g clip-path="url(#cb2)">
<rect x="135" y="374" width="119.4" height="118.6" fill="#828282" filter="url(#tx)"/>
<path d="M230.0,388.0 C232.3,385.7 241.2,385.3 245.0,386.0 C248.8,386.7 251.8,388.7 253.0,392.0 C254.2,395.3 254.2,403.5 252.0,406.0 C249.8,408.5 243.5,408.0 240.0,407.0 C236.5,406.0 232.7,403.2 231.0,400.0 C229.3,396.8 227.7,390.3 230.0,388.0Z" fill="#9c9c9c" filter="url(#txs)"/>
<path d="M242.0,410.0 C243.0,408.3 250.0,410.3 252.0,412.0 C254.0,413.7 255.0,418.3 254.0,420.0 C253.0,421.7 248.0,423.7 246.0,422.0 C244.0,420.3 241.0,411.7 242.0,410.0Z" fill="#707070" opacity="0.7"/>
<path d="M146.5,374.0 L162.7,374.0 L169.6,383.5 L174.8,395.0 L174.2,404.3 L168.5,409.0 L167.3,415.8 L172.0,422.8 L176.5,427.4 L174.2,432.0 L168.0,426.0 L162.0,414.0 L157.0,400.0 L151.0,386.0 Z" fill="#5e5e5e" filter="url(#txd)"/>
<circle cx="169" cy="396" r="4" fill="#999" opacity="0.5"/>
<path d="M196.0,374.0 L206.0,374.0 L212.0,385.0 L218.0,398.0 L222.5,410.0 L225.5,422.0 L226.5,432.0 L221.5,432.0 L219.2,422.8 L217.0,418.0 L210.0,411.2 L205.4,404.3 L203.0,395.0 L199.6,387.0 L195.0,382.4 Z" fill="#4e4e4e" filter="url(#txd)"/>
<path d="M162.7,374.0 L196.0,374.0 L195.0,382.4 L199.6,387.0 L203.0,395.0 L205.4,404.3 L210.0,411.2 L217.0,418.0 L219.2,422.8 L206.5,420.5 L195.0,417.5 L187.0,418.0 L176.5,427.0 L172.0,422.8 L167.3,415.8 L168.5,409.0 L174.2,404.3 L174.8,395.0 L169.6,383.5 Z" fill="#b2b2b2" filter="url(#txs)"/>
<path d="M176.5,426.2 C178.6,423.9 183.9,419.4 187.0,418.0 C190.1,416.6 191.8,417.1 195.0,417.5 C198.2,417.9 202.7,419.2 206.5,420.5 C210.3,421.8 215.5,423.1 218.0,425.0 C220.5,426.9 219.9,429.7 221.5,432.0 C223.1,434.3 226.0,436.1 227.3,439.0 C228.7,441.9 229.4,445.7 229.6,449.3 C229.8,452.9 228.5,457.4 228.5,460.8 C228.5,464.2 229.6,466.7 229.6,470.0 C229.6,473.3 229.5,477.8 228.5,480.5 C227.5,483.2 225.7,484.7 223.8,486.2 C221.9,487.7 219.5,489.7 217.0,489.7 C214.5,489.7 211.5,487.7 208.8,486.2 C206.1,484.7 203.1,482.6 200.8,480.5 C198.5,478.4 197.3,476.4 195.0,473.5 C192.7,470.6 189.3,466.1 187.0,463.0 C184.7,459.9 182.9,458.2 181.2,455.0 C179.4,451.8 177.7,447.3 176.5,443.5 C175.3,439.7 174.2,434.9 174.2,432.0 C174.2,429.1 174.4,428.5 176.5,426.2Z" fill="#55707e" filter="url(#txm)" stroke="#2e2e2e" stroke-width="1.3"/>
<path d="M186.0,440.0 C187.7,435.8 195.3,433.0 200.0,433.0 C204.7,433.0 210.2,436.3 214.0,440.0 C217.8,443.7 221.3,449.3 223.0,455.0 C224.7,460.7 224.8,469.0 224.0,474.0 C223.2,479.0 220.7,483.5 218.0,485.0 C215.3,486.5 211.3,485.2 208.0,483.0 C204.7,480.8 201.0,476.2 198.0,472.0 C195.0,467.8 192.0,463.3 190.0,458.0 C188.0,452.7 184.3,444.2 186.0,440.0Z" fill="#668492" filter="url(#txm)"/>
<text transform="translate(202.5,448) rotate(60.5)" text-anchor="middle" y="3.1" font-size="9" fill="#fff" font-family="Liberation Sans, sans-serif" textLength="45" lengthAdjust="spacingAndGlyphs">Macrophage</text>
</g>
<clipPath id="cb3"><rect x="265.2" y="374.8" width="119.2" height="118.7"/></clipPath>
<g clip-path="url(#cb3)">
<rect x="265.2" y="374.8" width="119.2" height="118.7" fill="#8a8a8a" filter="url(#tx2)"/>
<path d="M265.0,385.0 L300.0,386.0 L340.0,390.0 L360.0,393.0 L360.0,400.0 L265.0,400.0 Z" fill="#7c7c7c" filter="url(#txd)"/>
<path d="M330.0,396.0 L350.0,394.0 L366.0,391.0 L385.0,388.0" stroke="#505050" stroke-width="1.5" fill="none"/>
<path d="M265.2,398.0 L300.0,397.5 L330.0,396.5 L345.0,397.5 L358.0,395.0 L366.0,392.5 L385.0,389.0 L385.0,392.0 L367.0,396.0 L360.0,401.0 L356.0,405.0 L330.0,405.5 L300.0,404.7 L265.2,406.5 Z" fill="#b5b7b8" filter="url(#txs)"/>
<circle cx="345.5" cy="425" r="21.5" fill="#bcbcbc"/>
<path d="M355.0,400.0 L362.0,409.0 L372.0,424.0 L382.0,432.0 L372.0,437.0 L362.0,446.0 L352.0,453.0 L346.0,446.0 L360.0,430.0 Z" fill="#bdbdbd" filter="url(#txs)"/>
<path d="M352.0,452.0 L362.0,445.0 L372.0,436.5 L385.0,432.5 L385.0,494.0 L334.0,494.0 L336.5,487.2 L342.3,479.0 L349.2,467.6 L351.5,456.0 Z" fill="#888888" filter="url(#tx)"/>
<path d="M351.0,458.0 L363.0,453.8" stroke="#bbb" stroke-width="1.2"/>
<path d="M265.2,406.5 L290.0,405.0 L310.0,404.7 L327.0,406.0 L326.0,425.0 L330.0,437.0 L338.0,445.0 L342.3,448.0 L351.5,456.0 L349.2,467.6 L342.3,479.0 L336.5,487.2 L334.2,494.0 L265.2,494.0 Z" fill="#809da9" filter="url(#txm)"/>
<circle cx="345.5" cy="425" r="19.2" fill="#d4b2a4"/>
<circle cx="345.5" cy="425" r="18.4" fill="#bb7e69" filter="url(#txs)"/>
<text x="346.8" y="420.9" text-anchor="middle" font-size="8.6" fill="#fff" font-family="Liberation Sans, sans-serif">Red</text>
<text x="347.2" y="430.7" text-anchor="middle" font-size="8.6" fill="#fff" font-family="Liberation Sans, sans-serif" textLength="36.4" lengthAdjust="spacingAndGlyphs">blood cell</text>
<text x="298.7" y="460.1" text-anchor="middle" font-size="8.7" fill="#fff" font-family="Liberation Sans, sans-serif" textLength="46.7" lengthAdjust="spacingAndGlyphs">Macrophage</text>
</g>
<clipPath id="cb4"><rect x="386.2" y="374.8" width="118.2" height="118.7"/></clipPath>
<g clip-path="url(#cb4)">
<rect x="386.2" y="374.8" width="118.2" height="118.7" fill="#c5c5c5" filter="url(#txs)"/>
<path d="M385.8,374.8 L397.7,374.8 L403.5,390.3 L410.4,401.8 L415.0,419.0 L417.3,433.0 L419.6,444.5 L422.0,456.0 L425.4,467.6 L428.8,479.0 L431.2,494.0 L385.8,494.0 Z" fill="#6b6b6b" filter="url(#txd)"/>
<ellipse cx="403.1" cy="401.1" rx="3.6" ry="5.4" fill="#a4a4a4" filter="url(#txs)"/>
<ellipse cx="406.6" cy="422.7" rx="3.7" ry="3.7" fill="#a8a8a8" filter="url(#txs)"/>
<ellipse cx="400.4" cy="435.4" rx="4.5" ry="3.6" fill="#aaaaaa" filter="url(#txs)"/>
<ellipse cx="401.3" cy="443.6" rx="3.6" ry="2.7" fill="#a0a0a0" filter="url(#txs)"/>
<ellipse cx="406.6" cy="460.7" rx="5.3" ry="3.7" fill="#a6a6a6" filter="url(#txs)"/>
<ellipse cx="390.4" cy="475.2" rx="3.6" ry="3.6" fill="#9c9c9c" filter="url(#txs)"/>
<ellipse cx="393.5" cy="384.0" rx="3.5" ry="4.0" fill="#999" filter="url(#txs)"/>
<ellipse cx="406.5" cy="431.8" rx="3.5" ry="3.8" fill="#3c3c3c" filter="url(#txs)"/>
<ellipse cx="392.2" cy="422.7" rx="3.6" ry="3.7" fill="#444" filter="url(#txs)"/>
<ellipse cx="399.4" cy="482.4" rx="3.6" ry="3.6" fill="#3a3a3a" filter="url(#txs)"/>
<ellipse cx="395.0" cy="403.5" rx="3.0" ry="3.5" fill="#474747" filter="url(#txs)"/>
<ellipse cx="410.0" cy="473.5" rx="3.0" ry="3.5" fill="#444" filter="url(#txs)"/>
<path d="M401.0,374.8 L424.2,374.8 L426.5,382.2 L428.8,392.6 L434.6,397.2 L442.7,396.0 L448.0,398.0 L455.0,404.0 L460.0,410.0 L456.5,415.7 L450.0,421.0 L440.0,431.0 L433.5,441.0 L432.5,447.5 L435.5,451.0 L441.5,454.0 L452.5,451.5 L462.5,447.0 L468.0,446.8 L477.3,448.0 L479.6,453.8 L476.2,457.2 L468.0,460.7 L462.3,465.3 L460.0,473.4 L462.3,485.0 L461.2,494.0 L431.2,494.0 L428.8,479.0 L425.4,467.6 L422.0,456.0 L419.6,444.5 L417.3,433.0 L415.0,419.0 L410.4,401.8 L403.5,390.3 Z" fill="#7d9eae" filter="url(#txm)"/>
<path d="M399.5,374.8 L405.5,390.3 L412.4,401.8 L417.0,419.0 L419.3,433.0 L421.6,444.5 L424.0,456.0 L427.4,467.6 L430.8,479.0 L433.2,494.0" stroke="#a9b3b7" stroke-width="3.2" fill="none"/>
<path d="M442.0,401.0 C442.8,399.3 447.7,399.2 450.0,400.0 C452.3,400.8 455.7,404.0 456.0,406.0 C456.3,408.0 453.8,411.3 452.0,412.0 C450.2,412.7 446.7,411.8 445.0,410.0 C443.3,408.2 441.2,402.7 442.0,401.0Z" fill="#93b1bf"/>
<path d="M427.7,374.8 L499.2,374.8 L500.5,377.5 L499.2,380.0 L494.6,383.4 L485.4,385.7 L468.0,388.0 L445.0,391.5 L437.0,394.3 L430.0,391.0 L427.0,383.0 Z" fill="#4e4e4e" filter="url(#txd)"/>
<path d="M481.0,411.0 C479.9,409.3 475.6,408.4 472.5,408.5 C469.4,408.6 466.2,409.5 462.5,411.5 C458.8,413.5 453.8,417.3 450.0,420.5 C446.2,423.7 442.8,427.2 440.0,430.5 C437.2,433.8 434.8,437.7 433.5,440.5 C432.2,443.3 432.2,445.7 432.5,447.5 C432.8,449.3 434.0,450.4 435.5,451.5 C437.0,452.6 438.7,454.0 441.5,454.0 C444.3,454.0 449.0,452.9 452.5,451.5 C456.0,450.1 459.6,447.8 462.5,445.5 C465.4,443.2 467.9,440.5 470.0,437.5 C472.1,434.5 473.5,430.7 475.0,427.5 C476.5,424.3 478.0,421.2 479.0,418.5 C480.0,415.8 482.1,412.7 481.0,411.0Z" fill="#d8c8c0" stroke="#d8c8c0" stroke-width="1.6"/>
<path d="M481.0,411.0 C479.9,409.3 475.6,408.4 472.5,408.5 C469.4,408.6 466.2,409.5 462.5,411.5 C458.8,413.5 453.8,417.3 450.0,420.5 C446.2,423.7 442.8,427.2 440.0,430.5 C437.2,433.8 434.8,437.7 433.5,440.5 C432.2,443.3 432.2,445.7 432.5,447.5 C432.8,449.3 434.0,450.4 435.5,451.5 C437.0,452.6 438.7,454.0 441.5,454.0 C444.3,454.0 449.0,452.9 452.5,451.5 C456.0,450.1 459.6,447.8 462.5,445.5 C465.4,443.2 467.9,440.5 470.0,437.5 C472.1,434.5 473.5,430.7 475.0,427.5 C476.5,424.3 478.0,421.2 479.0,418.5 C480.0,415.8 482.1,412.7 481.0,411.0Z" fill="#884938" filter="url(#txs)"/>
<circle cx="479.4" cy="430" r="2.4" fill="#2a2a2a"/>
<ellipse cx="479.6" cy="479.2" rx="4.2" ry="3.4" fill="#262626"/>
<circle cx="440.5" cy="456.8" r="1.8" fill="#222"/>
<text transform="translate(429.5,456) rotate(60.8)" text-anchor="middle" y="3" font-size="8.6" fill="#fff" font-family="Liberation Sans, sans-serif" textLength="45" lengthAdjust="spacingAndGlyphs">Macrophage</text>
<text transform="translate(453.8,431.9) rotate(-45)" text-anchor="middle" y="3.1" font-size="8.8" fill="#fff" font-family="Liberation Sans, sans-serif" textLength="40" lengthAdjust="spacingAndGlyphs">Red blood</text>
<text transform="translate(461.6,438.4) rotate(-48)" text-anchor="middle" y="3.1" font-size="8.8" fill="#fff" font-family="Liberation Sans, sans-serif">cell</text>
</g>
<filter id="bl1" x="-50%" y="-50%" width="200%" height="200%"><feGaussianBlur stdDeviation="1.1"/></filter>
<filter id="bl2" x="-50%" y="-50%" width="200%" height="200%"><feGaussianBlur stdDeviation="2"/></filter>
<filter id="nuc" x="-50%" y="-50%" width="200%" height="200%" color-interpolation-filters="sRGB"><feGaussianBlur stdDeviation="1" result="b"/><feTurbulence type="fractalNoise" baseFrequency="0.42" numOctaves="2" seed="2" result="n"/><feColorMatrix in="n" type="matrix" values="1 0 0 0 0  1 0 0 0 0  1 0 0 0 0  0 0 0 0 1" result="g"/><feComposite in="b" in2="g" operator="arithmetic" k1="0.9" k2="0.55" k3="0" k4="0" result="c"/><feComposite in="c" in2="b" operator="in"/></filter>
<filter id="bl05" x="-50%" y="-50%" width="200%" height="200%"><feGaussianBlur stdDeviation="0.5"/></filter>
<text x="7.3" y="522.3" font-size="11" font-weight="bold" fill="#111" font-family="Liberation Sans, sans-serif">C</text>
<clipPath id="cc1"><rect x="7.3" y="528.7" width="20" height="103.6"/></clipPath>
<g clip-path="url(#cc1)"><rect x="7.3" y="528.7" width="20" height="103.6" fill="#050409"/>
<ellipse cx="18.0" cy="541.5" rx="8.0" ry="6.5" fill="#2c2296" opacity="0.85" filter="url(#nuc)"/>
<ellipse cx="15.0" cy="554.0" rx="5.0" ry="6.0" fill="#221a70" opacity="0.8" filter="url(#nuc)"/>
<ellipse cx="20.0" cy="563.0" rx="5.0" ry="7.0" fill="#2c2296" opacity="0.75" filter="url(#nuc)"/>
<ellipse cx="17.0" cy="551.5" rx="5.0" ry="2.5" fill="#d8d4dc" opacity="0.8" filter="url(#bl1)"/>
<ellipse cx="18.0" cy="581.0" rx="7.0" ry="11.0" fill="#b4a8d0" opacity="0.85" filter="url(#bl1)"/>
<ellipse cx="18.0" cy="595.0" rx="6.0" ry="10.0" fill="#cdc4b4" opacity="0.85" filter="url(#bl1)"/>
<ellipse cx="13.5" cy="571.5" rx="3.5" ry="5.5" fill="#6a58b8" opacity="0.7" filter="url(#bl1)"/>
<ellipse cx="20.5" cy="606.0" rx="4.5" ry="6.0" fill="#2c2296" opacity="0.7" filter="url(#nuc)"/>
<ellipse cx="17.0" cy="619.0" rx="7.0" ry="7.0" fill="#221a70" opacity="0.7" filter="url(#nuc)"/>
<ellipse cx="20.5" cy="588.0" rx="3.5" ry="6.0" fill="#e4e0ec" opacity="0.75" filter="url(#bl1)"/>
<ellipse cx="13.0" cy="601.0" rx="3.0" ry="5.0" fill="#8a7ab0" opacity="0.6" filter="url(#bl1)"/>
<rect x="9.6" y="533.5" width="14.9" height="95" fill="none" stroke="#4a4a4a" stroke-width="0.5"/>
</g>
<clipPath id="cc2"><rect x="29.2" y="528.7" width="107.6" height="103.6"/></clipPath>
<g clip-path="url(#cc2)"><rect x="29.2" y="528.7" width="107.6" height="103.6" fill="#030207"/>
<ellipse cx="37.7" cy="567.8" rx="4.3" ry="7.6" fill="#2c2296" opacity="0.6" filter="url(#nuc)"/>
<ellipse cx="57.6" cy="554.9" rx="2.6" ry="5.4" fill="#2c2296" opacity="0.7" filter="url(#nuc)"/>
<ellipse cx="62.4" cy="568.4" rx="2.1" ry="2.6" fill="#2c2296" opacity="0.5" filter="url(#nuc)"/>
<ellipse cx="112.7" cy="538.2" rx="2.7" ry="3.8" fill="#2c2296" opacity="0.5" filter="url(#nuc)"/>
<ellipse cx="111.1" cy="568.4" rx="5.4" ry="4.9" fill="#2c2296" opacity="0.85" filter="url(#nuc)"/>
<ellipse cx="103.5" cy="556.5" rx="5.5" ry="2.5" fill="#221a70" opacity="0.5" filter="url(#nuc)"/>
<ellipse cx="63.5" cy="602.2" rx="5.5" ry="4.8" fill="#221a70" opacity="0.6" filter="url(#nuc)"/>
<ellipse cx="39.2" cy="617.2" rx="4.8" ry="3.8" fill="#3030c0" opacity="0.85" filter="url(#nuc)"/>
<ellipse cx="120.8" cy="592.0" rx="6.5" ry="5.4" fill="#221a70" opacity="0.6" filter="url(#nuc)"/>
<ellipse cx="128.8" cy="617.2" rx="3.8" ry="3.8" fill="#2c2296" opacity="0.6" filter="url(#nuc)"/>
<ellipse cx="81.5" cy="611.5" rx="5.5" ry="4.5" fill="#221a70" opacity="0.4" filter="url(#nuc)"/>
<ellipse cx="86.0" cy="535.8" rx="4.0" ry="3.2" fill="#221a70" opacity="0.4" filter="url(#nuc)"/>
<ellipse cx="47.5" cy="544.0" rx="4.5" ry="4.0" fill="#221a70" opacity="0.35" filter="url(#nuc)"/>
<path d="M63.3,544.6 C64.0,543.7 66.6,543.0 68.8,543.5 C71.0,544.0 74.6,546.1 76.4,547.9 C78.2,549.7 78.6,552.3 79.7,554.5 C80.8,556.7 81.9,558.5 83.0,561.1 C84.1,563.7 85.9,567.9 86.3,569.9 C86.7,571.9 86.1,572.2 85.2,573.1 C84.3,574.0 81.9,574.0 80.8,575.3 C79.7,576.6 79.3,579.1 78.6,580.8 C77.9,582.4 77.3,584.8 76.4,585.2 C75.5,585.6 73.8,584.5 73.1,583.0 C72.4,581.5 72.5,578.6 72.0,576.4 C71.5,574.2 70.0,572.1 69.8,569.9 C69.6,567.7 71.1,565.9 70.9,563.3 C70.7,560.7 69.9,556.9 68.8,554.5 C67.7,552.1 65.3,550.6 64.4,549.0 C63.5,547.4 62.6,545.5 63.3,544.6Z" fill="#4c4458" stroke="#e4e4e4" stroke-width="1.7" filter="url(#bl05)"/>
<path d="M65.5,546.0 C65.6,544.9 67.5,545.0 68.5,545.5 C69.5,546.0 70.8,547.6 71.5,549.0 C72.2,550.4 73.1,552.8 73.0,554.0 C72.9,555.2 71.8,556.3 71.0,556.0 C70.2,555.7 68.9,553.7 68.0,552.0 C67.1,550.3 65.4,547.1 65.5,546.0Z" fill="#0a0810" filter="url(#bl05)"/>
<path d="M79.0,549.0 C79.4,548.2 80.8,548.8 81.0,550.0 C81.2,551.2 80.9,555.2 80.5,556.0 C80.1,556.8 78.8,556.2 78.5,555.0 C78.2,553.8 78.6,549.8 79.0,549.0Z" fill="#7a6a90" filter="url(#bl05)"/>
<ellipse cx="78.2" cy="567.0" rx="3.9" ry="6.0" fill="#5a46d0" opacity="0.95" filter="url(#bl05)"/>
<path d="M71.5,562.0 L71.5,570.0 L73.5,578.0 L75.5,584.0" stroke="#f4f4f4" stroke-width="1.6" fill="none" filter="url(#bl05)"/>
<path d="M45.5,579.0 C46.4,577.9 48.4,577.0 50.0,577.5 C51.6,578.0 53.8,580.2 55.0,582.0 C56.2,583.8 57.5,586.4 57.0,588.0 C56.5,589.6 53.7,591.3 52.0,591.5 C50.3,591.7 48.2,590.2 47.0,589.0 C45.8,587.8 44.8,585.7 44.5,584.0 C44.2,582.3 44.6,580.1 45.5,579.0Z" fill="#7e5c58" stroke="#d8d0d0" stroke-width="1.2" filter="url(#bl05)"/>
<path d="M118.6,561.0 C119.8,560.5 119.9,563.2 119.5,565.0 C119.1,566.8 117.4,569.8 116.0,572.0 C114.6,574.2 112.8,576.2 111.0,578.0 C109.2,579.8 106.6,581.0 105.0,583.0 C103.4,585.0 102.2,587.5 101.5,590.0 C100.8,592.5 101.1,595.8 100.5,598.0 C99.9,600.2 99.1,602.8 98.0,603.0 C96.9,603.2 94.5,601.2 94.0,599.0 C93.5,596.8 94.2,592.8 95.0,590.0 C95.8,587.2 97.3,584.3 99.0,582.0 C100.7,579.7 102.8,578.3 105.0,576.0 C107.2,573.7 109.7,570.5 112.0,568.0 C114.3,565.5 117.3,561.5 118.6,561.0Z" fill="#9e9698" stroke="#d8d4d4" stroke-width="1.3" filter="url(#bl05)"/>
<path d="M117.0,564.0 L110.0,575.0 L102.0,583.0 L98.0,592.0 L97.0,600.0" stroke="#c8c0c0" stroke-width="1.2" fill="none" filter="url(#bl05)"/>
<path d="M119.7,539.5 C120.4,538.7 123.4,538.0 125.0,538.0 C126.6,538.0 129.1,538.8 129.4,539.5 C129.7,540.2 128.4,541.9 127.0,542.5 C125.6,543.1 122.2,543.5 121.0,543.0 C119.8,542.5 119.0,540.3 119.7,539.5Z" fill="#777" filter="url(#bl05)"/>
<line x1="32.8" y1="540" x2="32.8" y2="622" stroke="#3e3e3e" stroke-width="0.6"/>
<line x1="132.1" y1="531" x2="132.1" y2="622" stroke="#3e3e3e" stroke-width="0.6"/>
<text x="32.3" y="538.8" font-size="7.6" font-style="italic" fill="#fff" font-family="Liberation Sans, sans-serif" textLength="14.5" lengthAdjust="spacingAndGlyphs">A/A</text>
<rect x="29.7" y="622.6" width="106.1" height="10.9" fill="#fff"/>
<text y="632" font-size="9.2" font-family="Liberation Sans, sans-serif"><tspan x="33.4" fill="#50509e" textLength="18.8" lengthAdjust="spacingAndGlyphs">DAPI</tspan><tspan x="52.2" fill="#dcd8e4" textLength="20.8" lengthAdjust="spacingAndGlyphs">F4/80</tspan><tspan x="73" fill="#3a9e50" textLength="29.6" lengthAdjust="spacingAndGlyphs">MARCO</tspan><tspan x="102.6" fill="#cf4545" textLength="30.6" lengthAdjust="spacingAndGlyphs">Ter119</tspan></text>
</g>
<clipPath id="cc3"><rect x="29.3" y="634" width="108.3" height="21.4"/></clipPath>
<g clip-path="url(#cc3)"><rect x="29.3" y="634" width="108.3" height="21.4" fill="#050409"/>
<ellipse cx="38.6" cy="645.0" rx="4.9" ry="8.0" fill="#cfc8dc" opacity="0.9" filter="url(#bl1)"/>
<ellipse cx="46.0" cy="645.0" rx="4.0" ry="8.0" fill="#2c2296" opacity="0.85" filter="url(#nuc)"/>
<ellipse cx="54.5" cy="645.0" rx="4.5" ry="8.0" fill="#cbbca6" opacity="0.85" filter="url(#bl1)"/>
<ellipse cx="63.0" cy="645.0" rx="5.0" ry="8.0" fill="#2c2296" opacity="0.85" filter="url(#nuc)"/>
<ellipse cx="75.5" cy="644.5" rx="5.5" ry="7.5" fill="#b2c0a8" opacity="0.85" filter="url(#bl1)"/>
<ellipse cx="88.0" cy="645.0" rx="7.0" ry="8.0" fill="#2c2296" opacity="0.8" filter="url(#nuc)"/>
<ellipse cx="97.5" cy="645.0" rx="2.5" ry="7.0" fill="#221a70" opacity="0.5" filter="url(#nuc)"/>
<ellipse cx="104.9" cy="645.0" rx="4.4" ry="8.0" fill="#d6d2de" opacity="0.8" filter="url(#bl1)"/>
<ellipse cx="121.3" cy="645.0" rx="7.6" ry="9.0" fill="#2c2296" opacity="0.9" filter="url(#nuc)"/>
<ellipse cx="132.0" cy="645.0" rx="3.0" ry="7.0" fill="#221a70" opacity="0.5" filter="url(#nuc)"/>
<rect x="31.5" y="636" width="104" height="17.5" fill="none" stroke="#4a4a4a" stroke-width="0.5"/>
</g>
<clipPath id="cc4"><rect x="138.6" y="528.7" width="20" height="103.6"/></clipPath>
<g clip-path="url(#cc4)"><rect x="138.6" y="528.7" width="20" height="103.6" fill="#06040a"/>
<ellipse cx="144.0" cy="548.0" rx="4.0" ry="12.0" fill="#2c2296" opacity="0.75" filter="url(#nuc)"/>
<ellipse cx="152.2" cy="550.0" rx="3.2" ry="14.0" fill="#d01c1c" opacity="0.95" filter="url(#bl1)"/>
<ellipse cx="148.0" cy="535.0" rx="7.0" ry="2.0" fill="#e6c6cc" opacity="0.75" filter="url(#bl1)"/>
<ellipse cx="151.0" cy="570.7" rx="4.5" ry="6.7" fill="#a6de5c" opacity="0.95" filter="url(#bl1)"/>
<ellipse cx="143.5" cy="562.0" rx="3.5" ry="6.0" fill="#7050a0" opacity="0.6" filter="url(#bl1)"/>
<ellipse cx="146.5" cy="578.0" rx="5.5" ry="4.0" fill="#d8c8d2" opacity="0.7" filter="url(#bl1)"/>
<ellipse cx="146.4" cy="597.0" rx="5.8" ry="5.0" fill="#cc1e1e" opacity="0.9" filter="url(#bl1)"/>
<ellipse cx="147.0" cy="587.0" rx="6.0" ry="5.0" fill="#2c2296" opacity="0.75" filter="url(#nuc)"/>
<ellipse cx="147.5" cy="611.0" rx="7.5" ry="9.0" fill="#2c2296" opacity="0.8" filter="url(#nuc)"/>
<ellipse cx="148.0" cy="624.0" rx="4.0" ry="3.0" fill="#eee6de" opacity="0.9" filter="url(#bl1)"/>
<ellipse cx="153.5" cy="619.0" rx="2.5" ry="5.0" fill="#b82020" opacity="0.6" filter="url(#bl1)"/>
<rect x="141" y="533.5" width="15" height="95" fill="none" stroke="#4a4a4a" stroke-width="0.5"/>
</g>
<clipPath id="cc5"><rect x="160.5" y="528.7" width="107.2" height="103.6"/></clipPath>
<g clip-path="url(#cc5)"><rect x="160.5" y="528.7" width="107.2" height="103.6" fill="#030206"/>
<ellipse cx="193.4" cy="551.1" rx="6.4" ry="4.9" fill="#2c2296" opacity="0.85" filter="url(#nuc)"/>
<ellipse cx="171.2" cy="569.5" rx="4.8" ry="5.9" fill="#221a70" opacity="0.7" filter="url(#nuc)"/>
<ellipse cx="210.5" cy="544.1" rx="5.5" ry="5.4" fill="#221a70" opacity="0.5" filter="url(#nuc)"/>
<ellipse cx="231.9" cy="549.5" rx="4.9" ry="5.5" fill="#3428a8" opacity="0.9" filter="url(#nuc)"/>
<ellipse cx="258.8" cy="550.1" rx="2.8" ry="2.7" fill="#2c2296" opacity="0.6" filter="url(#nuc)"/>
<ellipse cx="176.7" cy="603.4" rx="4.8" ry="4.9" fill="#2c2296" opacity="0.75" filter="url(#nuc)"/>
<ellipse cx="199.8" cy="615.6" rx="5.3" ry="5.4" fill="#2c2296" opacity="0.75" filter="url(#nuc)"/>
<ellipse cx="185.8" cy="628.6" rx="4.2" ry="3.2" fill="#3030b8" opacity="0.85" filter="url(#nuc)"/>
<ellipse cx="171.2" cy="589.8" rx="4.8" ry="3.2" fill="#221a70" opacity="0.5" filter="url(#nuc)"/>
<ellipse cx="195.0" cy="624.2" rx="3.8" ry="3.2" fill="#221a70" opacity="0.5" filter="url(#nuc)"/>
<ellipse cx="235.8" cy="590.9" rx="3.2" ry="4.3" fill="#2c2296" opacity="0.7" filter="url(#nuc)"/>
<ellipse cx="247.6" cy="601.1" rx="5.4" ry="4.9" fill="#3830b0" opacity="0.85" filter="url(#nuc)"/>
<ellipse cx="259.0" cy="606.0" rx="3.0" ry="6.0" fill="#221a70" opacity="0.4" filter="url(#nuc)"/>
<ellipse cx="178.0" cy="544.0" rx="4.0" ry="4.0" fill="#221a70" opacity="0.3" filter="url(#nuc)"/>
<ellipse cx="218.4" cy="611.0" rx="5.4" ry="7.0" fill="#e01e1e" opacity="0.95" filter="url(#bl1)"/>
<ellipse cx="231.4" cy="603.8" rx="7.6" ry="6.4" fill="#801414" opacity="0.75" filter="url(#bl1)"/>
<ellipse cx="250.8" cy="615.1" rx="6.4" ry="8.1" fill="#8a1414" opacity="0.8" filter="url(#bl1)"/>
<ellipse cx="246.5" cy="553.8" rx="6.5" ry="4.2" fill="#5a1414" opacity="0.7" filter="url(#bl1)"/>
<ellipse cx="241.7" cy="565.6" rx="4.8" ry="7.6" fill="#c81818" opacity="0.9" filter="url(#bl1)"/>
<ellipse cx="249.7" cy="579.1" rx="5.3" ry="4.9" fill="#601212" opacity="0.6" filter="url(#bl1)"/>
<ellipse cx="185.8" cy="591.5" rx="4.2" ry="3.8" fill="#901818" opacity="0.8" filter="url(#bl1)"/>
<ellipse cx="213.8" cy="610.4" rx="2.2" ry="5.4" fill="#d01c1c" opacity="0.8" filter="url(#bl1)"/>
<ellipse cx="195.0" cy="565.6" rx="3.8" ry="2.1" fill="#d01c1c" opacity="0.9" filter="url(#bl1)"/>
<ellipse cx="222.2" cy="608.6" rx="1.6" ry="1.6" fill="#3040d0" opacity="0.9" filter="url(#bl05)"/>
<ellipse cx="252.4" cy="591.5" rx="10.2" ry="13.5" fill="#8a9478" opacity="0.5" filter="url(#bl2)"/>
<path d="M164.3,532.3 L191.2,531.8 L169.7,549.5 L164.3,546.3 Z" fill="#cc1818" filter="url(#bl05)"/>
<path d="M191.2,531.8 L169.7,549.5 L167,548" stroke="#b07070" stroke-width="1.5" fill="none" filter="url(#bl05)"/>
<ellipse cx="251.0" cy="578.0" rx="11.0" ry="22.0" fill="#6a5058" opacity="0.55" filter="url(#bl2)"/>
<ellipse cx="252.0" cy="568.5" rx="6.0" ry="6.5" fill="#8a2020" opacity="0.6" filter="url(#bl1)"/>
<ellipse cx="177.0" cy="583.0" rx="9.0" ry="7.0" fill="#501838" opacity="0.5" filter="url(#bl2)"/>
<path d="M183.0,566.5 C183.8,565.2 187.2,564.6 190.0,564.0 C192.8,563.4 196.7,562.9 200.0,563.0 C203.3,563.1 206.7,564.5 210.0,564.5 C213.3,564.5 217.0,563.6 220.0,563.0 C223.0,562.4 225.3,561.8 228.0,561.0 C230.7,560.2 233.7,559.5 236.0,558.5 C238.3,557.5 239.8,555.8 242.0,555.0 C244.2,554.2 247.5,553.3 249.0,553.5 C250.5,553.7 251.8,554.9 251.0,556.0 C250.2,557.1 246.2,558.5 244.0,560.0 C241.8,561.5 240.3,563.4 238.0,565.0 C235.7,566.6 232.7,568.3 230.0,569.5 C227.3,570.7 225.0,571.6 222.0,572.0 C219.0,572.4 215.2,572.3 212.0,572.0 C208.8,571.7 205.2,569.8 203.0,570.0 C200.8,570.2 199.8,571.2 199.0,573.0 C198.2,574.8 198.0,578.0 198.0,581.0 C198.0,584.0 198.8,587.8 199.0,591.0 C199.2,594.2 199.8,597.7 199.5,600.0 C199.2,602.3 198.6,605.0 197.5,605.0 C196.4,605.0 194.2,602.5 193.0,600.0 C191.8,597.5 191.0,593.3 190.0,590.0 C189.0,586.7 187.8,583.0 187.0,580.0 C186.2,577.0 185.7,574.2 185.0,572.0 C184.3,569.8 182.2,567.8 183.0,566.5Z" fill="#c2d2b4" stroke="#e8ece4" stroke-width="1" filter="url(#bl05)"/>
<path d="M186.0,567.5 C187.0,565.8 191.5,565.2 193.0,566.5 C194.5,567.8 194.5,571.1 195.0,575.0 C195.5,578.9 196.2,585.8 196.0,590.0 C195.8,594.2 195.0,600.3 194.0,600.0 C193.0,599.7 191.2,591.8 190.0,588.0 C188.8,584.2 187.7,580.4 187.0,577.0 C186.3,573.6 185.0,569.2 186.0,567.5Z" fill="#f2f4ee" filter="url(#bl05)"/>
<path d="M205.0,566.0 C206.2,565.5 211.5,566.7 215.0,566.5 C218.5,566.3 222.5,565.8 226.0,565.0 C229.5,564.2 235.5,561.6 236.0,562.0 C236.5,562.4 232.0,566.2 229.0,567.5 C226.0,568.8 221.5,569.7 218.0,570.0 C214.5,570.3 210.2,570.2 208.0,569.5 C205.8,568.8 203.8,566.5 205.0,566.0Z" fill="#f4f4f0" filter="url(#bl05)"/>
<path d="M232.0,556.0 C232.3,555.0 237.0,553.7 240.0,553.0 C243.0,552.3 247.7,551.8 250.0,552.0 C252.3,552.2 254.3,553.2 254.0,554.0 C253.7,554.8 250.7,556.2 248.0,557.0 C245.3,557.8 240.7,559.2 238.0,559.0 C235.3,558.8 231.7,557.0 232.0,556.0Z" fill="#b8a8a8" filter="url(#bl05)"/>
<ellipse cx="218.9" cy="568.8" rx="3.9" ry="2.2" fill="#5038c0" opacity="0.95" filter="url(#bl05)"/>
<path d="M201.0,586.6 C201.5,585.4 204.2,586.4 206.0,588.0 C207.8,589.6 210.7,593.2 212.0,596.0 C213.3,598.8 214.3,603.8 213.8,605.0 C213.3,606.2 210.8,604.7 209.0,603.0 C207.2,601.3 204.3,597.7 203.0,595.0 C201.7,592.3 200.5,587.8 201.0,586.6Z" fill="#a89090" opacity="0.85" filter="url(#bl05)"/>
<path d="M257.0,532.3 L259.0,541.0" stroke="#d8b8b8" stroke-width="2" filter="url(#bl05)"/>
<line x1="163.2" y1="540" x2="163.2" y2="631.3" stroke="#3e3e3e" stroke-width="0.6"/>
<line x1="262" y1="531.8" x2="262" y2="631.3" stroke="#3e3e3e" stroke-width="0.6"/>
<line x1="163.2" y1="631.3" x2="262" y2="631.3" stroke="#3e3e3e" stroke-width="0.6"/>
<line x1="195" y1="531.8" x2="262" y2="531.8" stroke="#3e3e3e" stroke-width="0.6"/>
<text x="165.4" y="538.8" font-size="7.6" font-style="italic" fill="#fff" font-family="Liberation Sans, sans-serif" textLength="11.8" lengthAdjust="spacingAndGlyphs">S/S</text>
<text x="239" y="627" font-size="8.6" fill="#fff" font-family="Liberation Sans, sans-serif" textLength="23.6" lengthAdjust="spacingAndGlyphs">20 µm</text>
<rect x="236.2" y="630.2" width="29.6" height="1.4" fill="#f0f0f0"/>
</g>
<clipPath id="cc6"><rect x="160.3" y="634" width="107.4" height="21.4"/></clipPath>
<g clip-path="url(#cc6)"><rect x="160.3" y="634" width="107.4" height="21.4" fill="#05040a"/>
<ellipse cx="174.0" cy="644.5" rx="9.0" ry="8.5" fill="#2c2296" opacity="0.8" filter="url(#nuc)"/>
<ellipse cx="187.0" cy="644.5" rx="6.0" ry="8.5" fill="#b01c2c" opacity="0.8" filter="url(#bl1)"/>
<ellipse cx="188.5" cy="645.0" rx="3.5" ry="5.0" fill="#4a2a90" opacity="0.6" filter="url(#bl1)"/>
<ellipse cx="203.0" cy="644.5" rx="11.0" ry="8.5" fill="#3a2a98" opacity="0.8" filter="url(#bl1)"/>
<ellipse cx="206.0" cy="647.5" rx="6.0" ry="4.5" fill="#a8a0b0" opacity="0.6" filter="url(#bl1)"/>
<ellipse cx="221.5" cy="644.5" rx="7.5" ry="8.5" fill="#7a1a50" opacity="0.7" filter="url(#bl1)"/>
<ellipse cx="219.5" cy="640.5" rx="3.5" ry="4.5" fill="#d01c1c" opacity="0.9" filter="url(#bl1)"/>
<ellipse cx="234.5" cy="644.5" rx="5.5" ry="8.5" fill="#c01c1c" opacity="0.85" filter="url(#bl1)"/>
<ellipse cx="235.0" cy="648.5" rx="3.0" ry="3.5" fill="#e0d8d8" opacity="0.7" filter="url(#bl1)"/>
<ellipse cx="244.5" cy="644.5" rx="4.5" ry="8.5" fill="#3a2aa0" opacity="0.8" filter="url(#bl1)"/>
<ellipse cx="254.0" cy="640.5" rx="6.0" ry="4.5" fill="#e01c1c" opacity="0.95" filter="url(#bl1)"/>
<ellipse cx="256.0" cy="649.0" rx="4.0" ry="4.0" fill="#b8b0b0" opacity="0.8" filter="url(#bl1)"/>
<rect x="162.5" y="636" width="103" height="17.5" fill="none" stroke="#4a4a4a" stroke-width="0.5"/>
</g>
<text x="283.6" y="523" font-size="11" font-weight="bold" fill="#111" font-family="Liberation Sans, sans-serif">D</text>
<rect x="326.4" y="633.7" width="21.6" height="6.5" fill="#c6c6cd"/>
<rect x="361.8" y="588.1" width="22.1" height="52.1" fill="#c6c6cd"/>
<path d="M337.1,631.1 L337.1,636.2 M333,631.1 L341.2,631.1 M333,636.2 L341.2,636.2" stroke="#5877b8" stroke-width="0.9"/>
<path d="M372.6,570.9 L372.6,604.4 M367,570.9 L378,570.9 M367,604.4 L378,604.4" stroke="#f0a040" stroke-width="0.9"/>
<circle cx="330.2" cy="629.1" r="1.5" fill="#5877b8"/>
<circle cx="337.1" cy="630" r="1.5" fill="#5877b8"/>
<circle cx="343.6" cy="630.8" r="1.5" fill="#5877b8"/>
<circle cx="337" cy="634.4" r="1.5" fill="#5877b8"/>
<circle cx="341" cy="631.5" r="1.5" fill="#5877b8"/>
<circle cx="372.6" cy="560.6" r="1.5" fill="#f0a040"/>
<circle cx="369.5" cy="583.6" r="1.5" fill="#f0a040"/>
<circle cx="376" cy="586" r="1.5" fill="#f0a040"/>
<circle cx="371.9" cy="591.3" r="1.5" fill="#f0a040"/>
<circle cx="371.9" cy="603.2" r="1.5" fill="#f0a040"/>
<circle cx="372.6" cy="612.1" r="1.5" fill="#f0a040"/>
<path d="M319.3,554 L319.3,640.2 L389.9,640.2" fill="none" stroke="#222" stroke-width="1.1"/>
<line x1="316.8" y1="640.2" x2="319.3" y2="640.2" stroke="#222" stroke-width="1"/>
<text x="314.8" y="643.4" text-anchor="end" font-size="9" fill="#222" font-family="Liberation Sans, sans-serif">0</text>
<line x1="316.8" y1="611.9" x2="319.3" y2="611.9" stroke="#222" stroke-width="1"/>
<text x="314.8" y="615.1" text-anchor="end" font-size="9" fill="#222" font-family="Liberation Sans, sans-serif">1</text>
<line x1="316.8" y1="583.6" x2="319.3" y2="583.6" stroke="#222" stroke-width="1"/>
<text x="314.8" y="586.8" text-anchor="end" font-size="9" fill="#222" font-family="Liberation Sans, sans-serif">2</text>
<line x1="316.8" y1="555.3" x2="319.3" y2="555.3" stroke="#222" stroke-width="1"/>
<text x="314.8" y="558.5" text-anchor="end" font-size="9" fill="#222" font-family="Liberation Sans, sans-serif">3</text>
<line x1="337.1" y1="640.2" x2="337.1" y2="642.7" stroke="#222" stroke-width="1"/>
<text x="337.1" y="654.5" text-anchor="middle" font-size="9" font-style="italic" fill="#222" font-family="Liberation Sans, sans-serif">A/A</text>
<line x1="372.6" y1="640.2" x2="372.6" y2="642.7" stroke="#222" stroke-width="1"/>
<text x="372.6" y="654.5" text-anchor="middle" font-size="9" font-style="italic" fill="#222" font-family="Liberation Sans, sans-serif">S/S</text>
<line x1="351" y1="555.8" x2="371.9" y2="555.8" stroke="#222" stroke-width="1"/>
<text x="361.4" y="555" text-anchor="middle" font-size="8" fill="#222" font-family="Liberation Sans, sans-serif" textLength="17" lengthAdjust="spacingAndGlyphs">****</text>
<text transform="translate(289.6,596) rotate(-90)" y="3.2" text-anchor="middle" font-size="9.8" fill="#333" font-family="Liberation Sans, sans-serif" textLength="71" lengthAdjust="spacingAndGlyphs">MARCO fluorescence</text>
<text transform="translate(300.3,596) rotate(-90)" y="3.2" text-anchor="middle" font-size="9.8" fill="#333" font-family="Liberation Sans, sans-serif" textLength="69.5" lengthAdjust="spacingAndGlyphs">intensity (AU, ×10<tspan font-size="6.3" dy="-3">5</tspan><tspan dy="3">)</tspan></text>
<rect x="449.1" y="607.0" width="22" height="33.2" fill="#c6c6cd"/>
<rect x="483.8" y="579.5" width="22.8" height="60.7" fill="#c6c6cd"/>
<path d="M459.9,599.6 L459.9,613.3 M454,599.6 L465,599.6 M454,613.3 L465,613.3" stroke="#5877b8" stroke-width="0.9"/>
<path d="M495.3,566.6 L495.3,590.5 M489.8,566.6 L501,566.6 M489.8,590.5 L501,590.5" stroke="#f0a040" stroke-width="0.9"/>
<circle cx="453.2" cy="599.6" r="1.5" fill="#5877b8"/>
<circle cx="459.4" cy="602" r="1.5" fill="#5877b8"/>
<circle cx="465.9" cy="602.7" r="1.5" fill="#5877b8"/>
<circle cx="459.4" cy="610" r="1.5" fill="#5877b8"/>
<circle cx="459.4" cy="616.4" r="1.5" fill="#5877b8"/>
<circle cx="495.3" cy="557.7" r="1.5" fill="#f0a040"/>
<circle cx="495.3" cy="564.4" r="1.5" fill="#f0a040"/>
<circle cx="491.7" cy="581.6" r="1.5" fill="#f0a040"/>
<circle cx="498.9" cy="581.6" r="1.5" fill="#f0a040"/>
<circle cx="492.2" cy="590" r="1.5" fill="#f0a040"/>
<circle cx="498.2" cy="590" r="1.5" fill="#f0a040"/>
<path d="M442.6,554 L442.6,640.2 L512.6,640.2" fill="none" stroke="#222" stroke-width="1.1"/>
<line x1="440.1" y1="640.2" x2="442.6" y2="640.2" stroke="#222" stroke-width="1"/>
<text x="438.3" y="643.4" text-anchor="end" font-size="9" fill="#222" font-family="Liberation Sans, sans-serif">0</text>
<line x1="440.1" y1="619.1" x2="442.6" y2="619.1" stroke="#222" stroke-width="1"/>
<text x="438.3" y="622.3" text-anchor="end" font-size="9" fill="#222" font-family="Liberation Sans, sans-serif">0.2</text>
<line x1="440.1" y1="598.0" x2="442.6" y2="598.0" stroke="#222" stroke-width="1"/>
<text x="438.3" y="601.2" text-anchor="end" font-size="9" fill="#222" font-family="Liberation Sans, sans-serif">0.4</text>
<line x1="440.1" y1="576.9" x2="442.6" y2="576.9" stroke="#222" stroke-width="1"/>
<text x="438.3" y="580.1" text-anchor="end" font-size="9" fill="#222" font-family="Liberation Sans, sans-serif">0.6</text>
<line x1="440.1" y1="555.8" x2="442.6" y2="555.8" stroke="#222" stroke-width="1"/>
<text x="438.3" y="559.0" text-anchor="end" font-size="9" fill="#222" font-family="Liberation Sans, sans-serif">0.8</text>
<line x1="459.9" y1="640.2" x2="459.9" y2="642.7" stroke="#222" stroke-width="1"/>
<text x="459.9" y="654.5" text-anchor="middle" font-size="9" font-style="italic" fill="#222" font-family="Liberation Sans, sans-serif">A/A</text>
<line x1="495.3" y1="640.2" x2="495.3" y2="642.7" stroke="#222" stroke-width="1"/>
<text x="495.3" y="654.5" text-anchor="middle" font-size="9" font-style="italic" fill="#222" font-family="Liberation Sans, sans-serif">S/S</text>
<line x1="468.3" y1="556" x2="488.6" y2="556" stroke="#222" stroke-width="1"/>
<text x="478.4" y="555" text-anchor="middle" font-size="8" fill="#222" font-family="Liberation Sans, sans-serif" textLength="13" lengthAdjust="spacingAndGlyphs">***</text>
<text transform="translate(404.8,596.6) rotate(-90)" y="3.2" text-anchor="middle" font-size="9.8" fill="#333" font-family="Liberation Sans, sans-serif" textLength="106.7" lengthAdjust="spacingAndGlyphs">MARCO and RBC colocalization</text>
<text transform="translate(416.8,597.2) rotate(-90)" y="3.2" text-anchor="middle" font-size="9.8" fill="#333" font-family="Liberation Sans, sans-serif" textLength="76.6" lengthAdjust="spacingAndGlyphs">(manders' coefficient)</text>
<rect x="0.5" y="0.5" width="519" height="663" fill="none" stroke="#5a5a5a" stroke-width="1"/>
</svg>
</body></html>
